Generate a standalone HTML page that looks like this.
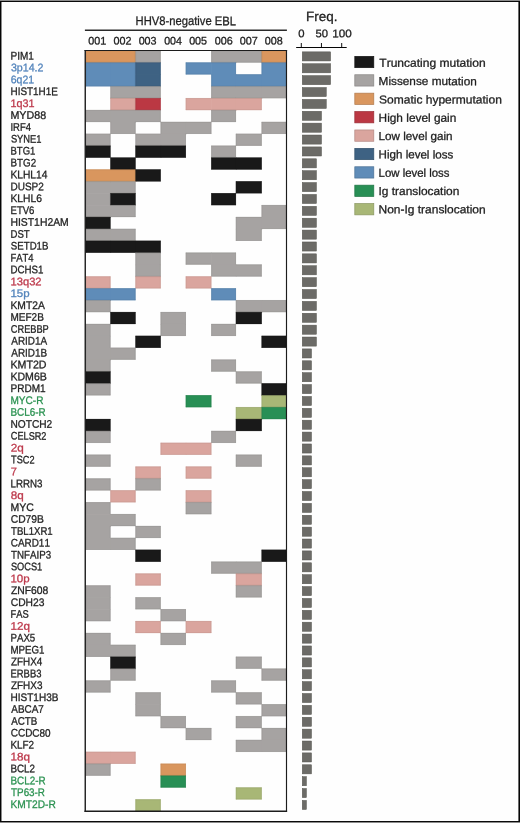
<!DOCTYPE html>
<html><head><meta charset="utf-8"><title>EBL mutation heatmap</title>
<style>html,body{margin:0;padding:0;background:#fff;}svg{display:block;will-change:transform;text-rendering:geometricPrecision;font-family:"Liberation Sans",sans-serif;}</style></head>
<body>
<svg width="520" height="823" viewBox="0 0 520 823">
<rect x="0" y="0" width="520" height="823" fill="#fefefe"/>
<rect x="85.70" y="50.62" width="25.35" height="12.48" fill="#d9965e"/>
<rect x="110.45" y="50.62" width="25.65" height="12.48" fill="#d9965e"/>
<rect x="135.50" y="50.62" width="25.15" height="12.48" fill="#a6a3a2"/>
<rect x="211.30" y="50.62" width="25.20" height="12.48" fill="#a6a3a2"/>
<rect x="235.90" y="50.62" width="26.35" height="11.88" fill="#a6a3a2"/>
<rect x="261.65" y="50.62" width="24.65" height="12.48" fill="#d9965e"/>
<rect x="85.70" y="62.50" width="25.35" height="12.48" fill="#5f8cb8"/>
<rect x="110.45" y="62.50" width="25.65" height="12.48" fill="#5f8cb8"/>
<rect x="135.50" y="62.50" width="25.15" height="12.48" fill="#3e6283"/>
<rect x="185.80" y="62.50" width="26.10" height="11.89" fill="#5f8cb8"/>
<rect x="211.30" y="62.50" width="24.60" height="12.48" fill="#5f8cb8"/>
<rect x="261.65" y="62.50" width="24.65" height="12.48" fill="#5f8cb8"/>
<rect x="85.70" y="74.39" width="25.35" height="11.89" fill="#5f8cb8"/>
<rect x="110.45" y="74.39" width="25.65" height="12.48" fill="#5f8cb8"/>
<rect x="135.50" y="74.39" width="25.15" height="12.48" fill="#3e6283"/>
<rect x="211.30" y="74.39" width="25.20" height="12.48" fill="#5f8cb8"/>
<rect x="235.90" y="74.39" width="26.35" height="12.48" fill="#5f8cb8"/>
<rect x="261.65" y="74.39" width="24.65" height="12.48" fill="#5f8cb8"/>
<rect x="110.45" y="86.28" width="25.65" height="12.48" fill="#a6a3a2"/>
<rect x="135.50" y="86.28" width="25.15" height="12.48" fill="#a6a3a2"/>
<rect x="211.30" y="86.28" width="25.20" height="12.48" fill="#a6a3a2"/>
<rect x="235.90" y="86.28" width="26.35" height="12.48" fill="#a6a3a2"/>
<rect x="261.65" y="86.28" width="24.65" height="11.88" fill="#a6a3a2"/>
<rect x="110.45" y="98.16" width="25.65" height="12.48" fill="#daa59e"/>
<rect x="135.50" y="98.16" width="25.15" height="12.48" fill="#bb3843"/>
<rect x="185.80" y="98.16" width="26.10" height="11.88" fill="#daa59e"/>
<rect x="211.30" y="98.16" width="25.20" height="12.48" fill="#daa59e"/>
<rect x="235.90" y="98.16" width="25.75" height="11.88" fill="#daa59e"/>
<rect x="85.70" y="110.04" width="25.35" height="11.89" fill="#a6a3a2"/>
<rect x="110.45" y="110.04" width="25.65" height="12.49" fill="#a6a3a2"/>
<rect x="135.50" y="110.04" width="25.15" height="11.89" fill="#a6a3a2"/>
<rect x="211.30" y="110.04" width="24.60" height="11.89" fill="#a6a3a2"/>
<rect x="110.45" y="121.93" width="25.05" height="11.88" fill="#a6a3a2"/>
<rect x="160.65" y="121.93" width="25.75" height="12.48" fill="#a6a3a2"/>
<rect x="185.80" y="121.93" width="25.50" height="11.88" fill="#a6a3a2"/>
<rect x="261.65" y="121.93" width="24.65" height="11.88" fill="#a6a3a2"/>
<rect x="85.70" y="133.81" width="24.75" height="12.48" fill="#a6a3a2"/>
<rect x="135.50" y="133.81" width="25.75" height="12.48" fill="#a6a3a2"/>
<rect x="160.65" y="133.81" width="25.15" height="12.48" fill="#a6a3a2"/>
<rect x="235.90" y="133.81" width="25.75" height="11.88" fill="#a6a3a2"/>
<rect x="85.70" y="145.70" width="24.75" height="11.89" fill="#191919"/>
<rect x="135.50" y="145.70" width="25.75" height="11.89" fill="#191919"/>
<rect x="160.65" y="145.70" width="25.15" height="11.89" fill="#191919"/>
<rect x="211.30" y="145.70" width="24.60" height="12.49" fill="#a6a3a2"/>
<rect x="110.45" y="157.59" width="25.05" height="12.48" fill="#191919"/>
<rect x="211.30" y="157.59" width="25.20" height="11.88" fill="#191919"/>
<rect x="235.90" y="157.59" width="25.75" height="11.88" fill="#191919"/>
<rect x="85.70" y="169.47" width="25.35" height="12.48" fill="#d9965e"/>
<rect x="110.45" y="169.47" width="25.65" height="12.48" fill="#d9965e"/>
<rect x="135.50" y="169.47" width="25.15" height="11.88" fill="#191919"/>
<rect x="85.70" y="181.35" width="25.35" height="12.49" fill="#a6a3a2"/>
<rect x="110.45" y="181.35" width="25.05" height="12.49" fill="#a6a3a2"/>
<rect x="235.90" y="181.35" width="25.75" height="11.89" fill="#191919"/>
<rect x="85.70" y="193.24" width="25.35" height="12.48" fill="#a6a3a2"/>
<rect x="110.45" y="193.24" width="25.05" height="12.48" fill="#191919"/>
<rect x="211.30" y="193.24" width="24.60" height="11.88" fill="#191919"/>
<rect x="85.70" y="205.12" width="25.35" height="12.48" fill="#a6a3a2"/>
<rect x="110.45" y="205.12" width="25.05" height="11.88" fill="#a6a3a2"/>
<rect x="261.65" y="205.12" width="24.65" height="12.48" fill="#a6a3a2"/>
<rect x="85.70" y="217.01" width="24.75" height="12.49" fill="#191919"/>
<rect x="235.90" y="217.01" width="26.35" height="12.49" fill="#a6a3a2"/>
<rect x="261.65" y="217.01" width="24.65" height="11.89" fill="#a6a3a2"/>
<rect x="85.70" y="228.90" width="25.35" height="12.48" fill="#a6a3a2"/>
<rect x="110.45" y="228.90" width="25.05" height="12.48" fill="#a6a3a2"/>
<rect x="235.90" y="228.90" width="25.75" height="11.88" fill="#a6a3a2"/>
<rect x="85.70" y="240.78" width="25.35" height="11.88" fill="#191919"/>
<rect x="110.45" y="240.78" width="25.65" height="11.88" fill="#191919"/>
<rect x="135.50" y="240.78" width="25.15" height="12.48" fill="#191919"/>
<rect x="135.50" y="252.66" width="25.15" height="12.49" fill="#a6a3a2"/>
<rect x="185.80" y="252.66" width="26.10" height="11.89" fill="#a6a3a2"/>
<rect x="211.30" y="252.66" width="24.60" height="12.49" fill="#a6a3a2"/>
<rect x="135.50" y="264.55" width="25.15" height="12.49" fill="#a6a3a2"/>
<rect x="211.30" y="264.55" width="25.20" height="11.88" fill="#a6a3a2"/>
<rect x="235.90" y="264.55" width="25.75" height="11.88" fill="#a6a3a2"/>
<rect x="85.70" y="276.44" width="24.75" height="12.49" fill="#daa59e"/>
<rect x="135.50" y="276.44" width="25.15" height="11.88" fill="#daa59e"/>
<rect x="185.80" y="276.44" width="25.50" height="11.88" fill="#daa59e"/>
<rect x="85.70" y="288.32" width="25.35" height="12.49" fill="#5f8cb8"/>
<rect x="110.45" y="288.32" width="25.05" height="11.88" fill="#5f8cb8"/>
<rect x="211.30" y="288.32" width="24.60" height="11.88" fill="#5f8cb8"/>
<rect x="85.70" y="300.20" width="24.75" height="11.88" fill="#a6a3a2"/>
<rect x="235.90" y="300.20" width="26.35" height="12.49" fill="#a6a3a2"/>
<rect x="261.65" y="300.20" width="24.65" height="11.88" fill="#a6a3a2"/>
<rect x="110.45" y="312.09" width="25.05" height="11.89" fill="#191919"/>
<rect x="160.65" y="312.09" width="25.15" height="12.49" fill="#a6a3a2"/>
<rect x="235.90" y="312.09" width="25.75" height="11.89" fill="#191919"/>
<rect x="85.70" y="323.98" width="24.75" height="12.49" fill="#a6a3a2"/>
<rect x="160.65" y="323.98" width="25.15" height="11.88" fill="#a6a3a2"/>
<rect x="211.30" y="323.98" width="24.60" height="11.88" fill="#a6a3a2"/>
<rect x="85.70" y="335.86" width="24.75" height="12.49" fill="#a6a3a2"/>
<rect x="135.50" y="335.86" width="25.15" height="11.88" fill="#191919"/>
<rect x="261.65" y="335.86" width="24.65" height="11.88" fill="#191919"/>
<rect x="85.70" y="347.75" width="25.35" height="12.49" fill="#a6a3a2"/>
<rect x="110.45" y="347.75" width="25.05" height="11.88" fill="#a6a3a2"/>
<rect x="85.70" y="359.63" width="24.75" height="12.49" fill="#a6a3a2"/>
<rect x="211.30" y="359.63" width="24.60" height="11.88" fill="#a6a3a2"/>
<rect x="85.70" y="371.51" width="24.75" height="12.49" fill="#191919"/>
<rect x="235.90" y="371.51" width="25.75" height="11.88" fill="#a6a3a2"/>
<rect x="85.70" y="383.40" width="24.75" height="11.89" fill="#a6a3a2"/>
<rect x="261.65" y="383.40" width="24.65" height="12.49" fill="#191919"/>
<rect x="185.80" y="395.29" width="25.50" height="11.88" fill="#288f55"/>
<rect x="261.65" y="395.29" width="24.65" height="12.49" fill="#a8b776"/>
<rect x="235.90" y="407.17" width="26.35" height="12.49" fill="#a8b776"/>
<rect x="261.65" y="407.17" width="24.65" height="11.88" fill="#288f55"/>
<rect x="85.70" y="419.06" width="24.75" height="12.49" fill="#191919"/>
<rect x="235.90" y="419.06" width="25.75" height="11.88" fill="#191919"/>
<rect x="85.70" y="430.94" width="24.75" height="11.88" fill="#a6a3a2"/>
<rect x="211.30" y="430.94" width="24.60" height="11.88" fill="#a6a3a2"/>
<rect x="160.65" y="442.82" width="25.75" height="11.88" fill="#daa59e"/>
<rect x="185.80" y="442.82" width="25.50" height="11.88" fill="#daa59e"/>
<rect x="85.70" y="454.71" width="24.75" height="11.88" fill="#a6a3a2"/>
<rect x="235.90" y="454.71" width="25.75" height="11.88" fill="#a6a3a2"/>
<rect x="135.50" y="466.59" width="25.15" height="12.49" fill="#daa59e"/>
<rect x="185.80" y="466.59" width="25.50" height="11.89" fill="#daa59e"/>
<rect x="85.70" y="478.48" width="24.75" height="11.88" fill="#a6a3a2"/>
<rect x="135.50" y="478.48" width="25.15" height="11.88" fill="#a6a3a2"/>
<rect x="110.45" y="490.37" width="25.05" height="11.88" fill="#daa59e"/>
<rect x="185.80" y="490.37" width="25.50" height="12.49" fill="#daa59e"/>
<rect x="85.70" y="502.25" width="24.75" height="12.49" fill="#a6a3a2"/>
<rect x="185.80" y="502.25" width="25.50" height="11.88" fill="#a6a3a2"/>
<rect x="85.70" y="514.13" width="25.35" height="12.49" fill="#a6a3a2"/>
<rect x="110.45" y="514.13" width="25.05" height="11.88" fill="#a6a3a2"/>
<rect x="85.70" y="526.02" width="24.75" height="12.49" fill="#a6a3a2"/>
<rect x="135.50" y="526.02" width="25.15" height="11.88" fill="#a6a3a2"/>
<rect x="85.70" y="537.90" width="25.35" height="11.88" fill="#a6a3a2"/>
<rect x="110.45" y="537.90" width="25.05" height="11.88" fill="#a6a3a2"/>
<rect x="135.50" y="549.79" width="25.15" height="11.88" fill="#191919"/>
<rect x="261.65" y="549.79" width="24.65" height="11.88" fill="#191919"/>
<rect x="211.30" y="561.67" width="25.20" height="11.88" fill="#a6a3a2"/>
<rect x="235.90" y="561.67" width="25.75" height="12.49" fill="#a6a3a2"/>
<rect x="135.50" y="573.56" width="25.15" height="11.89" fill="#daa59e"/>
<rect x="235.90" y="573.56" width="25.75" height="12.49" fill="#daa59e"/>
<rect x="85.70" y="585.45" width="24.75" height="12.49" fill="#a6a3a2"/>
<rect x="235.90" y="585.45" width="25.75" height="11.88" fill="#a6a3a2"/>
<rect x="85.70" y="597.33" width="24.75" height="12.49" fill="#a6a3a2"/>
<rect x="135.50" y="597.33" width="25.15" height="11.88" fill="#a6a3a2"/>
<rect x="85.70" y="609.22" width="24.75" height="11.88" fill="#a6a3a2"/>
<rect x="160.65" y="609.22" width="25.15" height="11.88" fill="#a6a3a2"/>
<rect x="135.50" y="621.10" width="25.15" height="11.88" fill="#daa59e"/>
<rect x="185.80" y="621.10" width="25.50" height="11.88" fill="#daa59e"/>
<rect x="85.70" y="632.99" width="24.75" height="12.49" fill="#a6a3a2"/>
<rect x="160.65" y="632.99" width="25.15" height="11.88" fill="#a6a3a2"/>
<rect x="85.70" y="644.87" width="25.35" height="11.88" fill="#a6a3a2"/>
<rect x="110.45" y="644.87" width="25.05" height="12.49" fill="#a6a3a2"/>
<rect x="110.45" y="656.75" width="25.05" height="12.49" fill="#191919"/>
<rect x="235.90" y="656.75" width="25.75" height="11.88" fill="#a6a3a2"/>
<rect x="110.45" y="668.64" width="25.05" height="11.88" fill="#a6a3a2"/>
<rect x="261.65" y="668.64" width="24.65" height="11.88" fill="#a6a3a2"/>
<rect x="85.70" y="680.52" width="24.75" height="11.88" fill="#a6a3a2"/>
<rect x="211.30" y="680.52" width="24.60" height="11.88" fill="#a6a3a2"/>
<rect x="135.50" y="692.41" width="25.15" height="12.49" fill="#a6a3a2"/>
<rect x="235.90" y="692.41" width="25.75" height="11.88" fill="#a6a3a2"/>
<rect x="135.50" y="704.29" width="25.15" height="11.88" fill="#a6a3a2"/>
<rect x="261.65" y="704.29" width="24.65" height="11.88" fill="#a6a3a2"/>
<rect x="160.65" y="716.18" width="25.15" height="11.88" fill="#a6a3a2"/>
<rect x="235.90" y="716.18" width="25.75" height="11.88" fill="#a6a3a2"/>
<rect x="185.80" y="728.06" width="25.50" height="11.89" fill="#a6a3a2"/>
<rect x="261.65" y="728.06" width="24.65" height="12.49" fill="#a6a3a2"/>
<rect x="235.90" y="739.95" width="26.35" height="11.88" fill="#a6a3a2"/>
<rect x="261.65" y="739.95" width="24.65" height="11.88" fill="#a6a3a2"/>
<rect x="85.70" y="751.84" width="25.35" height="12.49" fill="#daa59e"/>
<rect x="110.45" y="751.84" width="25.05" height="11.88" fill="#daa59e"/>
<rect x="85.70" y="763.72" width="24.75" height="11.88" fill="#a6a3a2"/>
<rect x="160.65" y="763.72" width="25.15" height="12.49" fill="#d9965e"/>
<rect x="160.65" y="775.61" width="25.15" height="11.88" fill="#288f55"/>
<rect x="235.90" y="787.49" width="25.75" height="11.88" fill="#a8b776"/>
<rect x="135.50" y="799.38" width="25.15" height="11.88" fill="#a8b776"/>
<line x1="85.70" y1="50.89" x2="110.45" y2="50.89" stroke="#c38754" stroke-width="0.55"/>
<line x1="85.70" y1="62.23" x2="110.45" y2="62.23" stroke="#c38754" stroke-width="0.55"/>
<line x1="85.98" y1="50.62" x2="85.98" y2="62.50" stroke="#c38754" stroke-width="0.55"/>
<line x1="110.45" y1="50.89" x2="135.50" y2="50.89" stroke="#c38754" stroke-width="0.55"/>
<line x1="110.45" y1="62.23" x2="135.50" y2="62.23" stroke="#c38754" stroke-width="0.55"/>
<line x1="135.22" y1="50.62" x2="135.22" y2="62.50" stroke="#c38754" stroke-width="0.55"/>
<line x1="135.50" y1="50.89" x2="160.65" y2="50.89" stroke="#959291" stroke-width="0.55"/>
<line x1="135.50" y1="62.23" x2="160.65" y2="62.23" stroke="#959291" stroke-width="0.55"/>
<line x1="135.78" y1="50.62" x2="135.78" y2="62.50" stroke="#959291" stroke-width="0.55"/>
<line x1="160.38" y1="50.62" x2="160.38" y2="62.50" stroke="#959291" stroke-width="0.55"/>
<line x1="211.30" y1="50.89" x2="235.90" y2="50.89" stroke="#959291" stroke-width="0.55"/>
<line x1="211.30" y1="62.23" x2="235.90" y2="62.23" stroke="#959291" stroke-width="0.55"/>
<line x1="211.58" y1="50.62" x2="211.58" y2="62.50" stroke="#959291" stroke-width="0.55"/>
<line x1="235.90" y1="50.89" x2="261.65" y2="50.89" stroke="#959291" stroke-width="0.55"/>
<line x1="235.90" y1="62.23" x2="261.65" y2="62.23" stroke="#959291" stroke-width="0.55"/>
<line x1="261.38" y1="50.62" x2="261.38" y2="62.50" stroke="#959291" stroke-width="0.55"/>
<line x1="261.65" y1="50.89" x2="286.30" y2="50.89" stroke="#c38754" stroke-width="0.55"/>
<line x1="261.65" y1="62.23" x2="286.30" y2="62.23" stroke="#c38754" stroke-width="0.55"/>
<line x1="261.92" y1="50.62" x2="261.92" y2="62.50" stroke="#c38754" stroke-width="0.55"/>
<line x1="286.03" y1="50.62" x2="286.03" y2="62.50" stroke="#c38754" stroke-width="0.55"/>
<line x1="85.70" y1="62.78" x2="110.45" y2="62.78" stroke="#557ea5" stroke-width="0.55"/>
<line x1="85.98" y1="62.50" x2="85.98" y2="74.39" stroke="#557ea5" stroke-width="0.55"/>
<line x1="110.45" y1="62.78" x2="135.50" y2="62.78" stroke="#557ea5" stroke-width="0.55"/>
<line x1="135.22" y1="62.50" x2="135.22" y2="74.39" stroke="#557ea5" stroke-width="0.55"/>
<line x1="135.50" y1="62.78" x2="160.65" y2="62.78" stroke="#375875" stroke-width="0.55"/>
<line x1="135.78" y1="62.50" x2="135.78" y2="74.39" stroke="#375875" stroke-width="0.55"/>
<line x1="160.38" y1="62.50" x2="160.38" y2="74.39" stroke="#375875" stroke-width="0.55"/>
<line x1="185.80" y1="62.78" x2="211.30" y2="62.78" stroke="#557ea5" stroke-width="0.55"/>
<line x1="185.80" y1="74.11" x2="211.30" y2="74.11" stroke="#557ea5" stroke-width="0.55"/>
<line x1="186.08" y1="62.50" x2="186.08" y2="74.39" stroke="#557ea5" stroke-width="0.55"/>
<line x1="211.30" y1="62.78" x2="235.90" y2="62.78" stroke="#557ea5" stroke-width="0.55"/>
<line x1="235.62" y1="62.50" x2="235.62" y2="74.39" stroke="#557ea5" stroke-width="0.55"/>
<line x1="261.65" y1="62.78" x2="286.30" y2="62.78" stroke="#557ea5" stroke-width="0.55"/>
<line x1="261.92" y1="62.50" x2="261.92" y2="74.39" stroke="#557ea5" stroke-width="0.55"/>
<line x1="286.03" y1="62.50" x2="286.03" y2="74.39" stroke="#557ea5" stroke-width="0.55"/>
<line x1="85.70" y1="86.00" x2="110.45" y2="86.00" stroke="#557ea5" stroke-width="0.55"/>
<line x1="85.98" y1="74.39" x2="85.98" y2="86.28" stroke="#557ea5" stroke-width="0.55"/>
<line x1="110.45" y1="86.00" x2="135.50" y2="86.00" stroke="#557ea5" stroke-width="0.55"/>
<line x1="135.22" y1="74.39" x2="135.22" y2="86.28" stroke="#557ea5" stroke-width="0.55"/>
<line x1="135.50" y1="86.00" x2="160.65" y2="86.00" stroke="#375875" stroke-width="0.55"/>
<line x1="135.78" y1="74.39" x2="135.78" y2="86.28" stroke="#375875" stroke-width="0.55"/>
<line x1="160.38" y1="74.39" x2="160.38" y2="86.28" stroke="#375875" stroke-width="0.55"/>
<line x1="211.30" y1="86.00" x2="235.90" y2="86.00" stroke="#557ea5" stroke-width="0.55"/>
<line x1="211.58" y1="74.39" x2="211.58" y2="86.28" stroke="#557ea5" stroke-width="0.55"/>
<line x1="235.90" y1="74.67" x2="261.65" y2="74.67" stroke="#557ea5" stroke-width="0.55"/>
<line x1="235.90" y1="86.00" x2="261.65" y2="86.00" stroke="#557ea5" stroke-width="0.55"/>
<line x1="261.65" y1="86.00" x2="286.30" y2="86.00" stroke="#557ea5" stroke-width="0.55"/>
<line x1="286.03" y1="74.39" x2="286.03" y2="86.28" stroke="#557ea5" stroke-width="0.55"/>
<line x1="110.45" y1="86.55" x2="135.50" y2="86.55" stroke="#959291" stroke-width="0.55"/>
<line x1="110.45" y1="97.88" x2="135.50" y2="97.88" stroke="#959291" stroke-width="0.55"/>
<line x1="110.73" y1="86.28" x2="110.73" y2="98.16" stroke="#959291" stroke-width="0.55"/>
<line x1="135.50" y1="86.55" x2="160.65" y2="86.55" stroke="#959291" stroke-width="0.55"/>
<line x1="135.50" y1="97.88" x2="160.65" y2="97.88" stroke="#959291" stroke-width="0.55"/>
<line x1="160.38" y1="86.28" x2="160.38" y2="98.16" stroke="#959291" stroke-width="0.55"/>
<line x1="211.30" y1="86.55" x2="235.90" y2="86.55" stroke="#959291" stroke-width="0.55"/>
<line x1="211.30" y1="97.88" x2="235.90" y2="97.88" stroke="#959291" stroke-width="0.55"/>
<line x1="211.58" y1="86.28" x2="211.58" y2="98.16" stroke="#959291" stroke-width="0.55"/>
<line x1="235.90" y1="86.55" x2="261.65" y2="86.55" stroke="#959291" stroke-width="0.55"/>
<line x1="235.90" y1="97.88" x2="261.65" y2="97.88" stroke="#959291" stroke-width="0.55"/>
<line x1="261.65" y1="86.55" x2="286.30" y2="86.55" stroke="#959291" stroke-width="0.55"/>
<line x1="261.65" y1="97.88" x2="286.30" y2="97.88" stroke="#959291" stroke-width="0.55"/>
<line x1="286.03" y1="86.28" x2="286.03" y2="98.16" stroke="#959291" stroke-width="0.55"/>
<line x1="110.45" y1="98.44" x2="135.50" y2="98.44" stroke="#c4948e" stroke-width="0.55"/>
<line x1="110.45" y1="109.77" x2="135.50" y2="109.77" stroke="#c4948e" stroke-width="0.55"/>
<line x1="110.73" y1="98.16" x2="110.73" y2="110.04" stroke="#c4948e" stroke-width="0.55"/>
<line x1="135.22" y1="98.16" x2="135.22" y2="110.04" stroke="#c4948e" stroke-width="0.55"/>
<line x1="135.50" y1="98.44" x2="160.65" y2="98.44" stroke="#a8323c" stroke-width="0.55"/>
<line x1="135.50" y1="109.77" x2="160.65" y2="109.77" stroke="#a8323c" stroke-width="0.55"/>
<line x1="135.78" y1="98.16" x2="135.78" y2="110.04" stroke="#a8323c" stroke-width="0.55"/>
<line x1="160.38" y1="98.16" x2="160.38" y2="110.04" stroke="#a8323c" stroke-width="0.55"/>
<line x1="185.80" y1="98.44" x2="211.30" y2="98.44" stroke="#c4948e" stroke-width="0.55"/>
<line x1="185.80" y1="109.77" x2="211.30" y2="109.77" stroke="#c4948e" stroke-width="0.55"/>
<line x1="186.08" y1="98.16" x2="186.08" y2="110.04" stroke="#c4948e" stroke-width="0.55"/>
<line x1="211.30" y1="98.44" x2="235.90" y2="98.44" stroke="#c4948e" stroke-width="0.55"/>
<line x1="211.30" y1="109.77" x2="235.90" y2="109.77" stroke="#c4948e" stroke-width="0.55"/>
<line x1="235.90" y1="98.44" x2="261.65" y2="98.44" stroke="#c4948e" stroke-width="0.55"/>
<line x1="235.90" y1="109.77" x2="261.65" y2="109.77" stroke="#c4948e" stroke-width="0.55"/>
<line x1="261.38" y1="98.16" x2="261.38" y2="110.04" stroke="#c4948e" stroke-width="0.55"/>
<line x1="85.70" y1="110.32" x2="110.45" y2="110.32" stroke="#959291" stroke-width="0.55"/>
<line x1="85.70" y1="121.66" x2="110.45" y2="121.66" stroke="#959291" stroke-width="0.55"/>
<line x1="85.98" y1="110.04" x2="85.98" y2="121.93" stroke="#959291" stroke-width="0.55"/>
<line x1="110.45" y1="110.32" x2="135.50" y2="110.32" stroke="#959291" stroke-width="0.55"/>
<line x1="135.50" y1="110.32" x2="160.65" y2="110.32" stroke="#959291" stroke-width="0.55"/>
<line x1="135.50" y1="121.66" x2="160.65" y2="121.66" stroke="#959291" stroke-width="0.55"/>
<line x1="160.38" y1="110.04" x2="160.38" y2="121.93" stroke="#959291" stroke-width="0.55"/>
<line x1="211.30" y1="110.32" x2="235.90" y2="110.32" stroke="#959291" stroke-width="0.55"/>
<line x1="211.30" y1="121.66" x2="235.90" y2="121.66" stroke="#959291" stroke-width="0.55"/>
<line x1="211.58" y1="110.04" x2="211.58" y2="121.93" stroke="#959291" stroke-width="0.55"/>
<line x1="235.62" y1="110.04" x2="235.62" y2="121.93" stroke="#959291" stroke-width="0.55"/>
<line x1="110.45" y1="133.54" x2="135.50" y2="133.54" stroke="#959291" stroke-width="0.55"/>
<line x1="110.73" y1="121.93" x2="110.73" y2="133.81" stroke="#959291" stroke-width="0.55"/>
<line x1="135.22" y1="121.93" x2="135.22" y2="133.81" stroke="#959291" stroke-width="0.55"/>
<line x1="160.65" y1="122.21" x2="185.80" y2="122.21" stroke="#959291" stroke-width="0.55"/>
<line x1="160.93" y1="121.93" x2="160.93" y2="133.81" stroke="#959291" stroke-width="0.55"/>
<line x1="185.80" y1="122.21" x2="211.30" y2="122.21" stroke="#959291" stroke-width="0.55"/>
<line x1="185.80" y1="133.54" x2="211.30" y2="133.54" stroke="#959291" stroke-width="0.55"/>
<line x1="211.03" y1="121.93" x2="211.03" y2="133.81" stroke="#959291" stroke-width="0.55"/>
<line x1="261.65" y1="122.21" x2="286.30" y2="122.21" stroke="#959291" stroke-width="0.55"/>
<line x1="261.65" y1="133.54" x2="286.30" y2="133.54" stroke="#959291" stroke-width="0.55"/>
<line x1="261.92" y1="121.93" x2="261.92" y2="133.81" stroke="#959291" stroke-width="0.55"/>
<line x1="286.03" y1="121.93" x2="286.03" y2="133.81" stroke="#959291" stroke-width="0.55"/>
<line x1="85.70" y1="134.09" x2="110.45" y2="134.09" stroke="#959291" stroke-width="0.55"/>
<line x1="85.70" y1="145.42" x2="110.45" y2="145.42" stroke="#959291" stroke-width="0.55"/>
<line x1="85.98" y1="133.81" x2="85.98" y2="145.70" stroke="#959291" stroke-width="0.55"/>
<line x1="110.17" y1="133.81" x2="110.17" y2="145.70" stroke="#959291" stroke-width="0.55"/>
<line x1="135.50" y1="134.09" x2="160.65" y2="134.09" stroke="#959291" stroke-width="0.55"/>
<line x1="135.50" y1="145.42" x2="160.65" y2="145.42" stroke="#959291" stroke-width="0.55"/>
<line x1="135.78" y1="133.81" x2="135.78" y2="145.70" stroke="#959291" stroke-width="0.55"/>
<line x1="160.65" y1="145.42" x2="185.80" y2="145.42" stroke="#959291" stroke-width="0.55"/>
<line x1="185.53" y1="133.81" x2="185.53" y2="145.70" stroke="#959291" stroke-width="0.55"/>
<line x1="235.90" y1="134.09" x2="261.65" y2="134.09" stroke="#959291" stroke-width="0.55"/>
<line x1="235.90" y1="145.42" x2="261.65" y2="145.42" stroke="#959291" stroke-width="0.55"/>
<line x1="236.18" y1="133.81" x2="236.18" y2="145.70" stroke="#959291" stroke-width="0.55"/>
<line x1="261.38" y1="133.81" x2="261.38" y2="145.70" stroke="#959291" stroke-width="0.55"/>
<line x1="85.70" y1="145.97" x2="110.45" y2="145.97" stroke="#161616" stroke-width="0.55"/>
<line x1="85.70" y1="157.31" x2="110.45" y2="157.31" stroke="#161616" stroke-width="0.55"/>
<line x1="85.98" y1="145.70" x2="85.98" y2="157.59" stroke="#161616" stroke-width="0.55"/>
<line x1="110.17" y1="145.70" x2="110.17" y2="157.59" stroke="#161616" stroke-width="0.55"/>
<line x1="135.50" y1="145.97" x2="160.65" y2="145.97" stroke="#161616" stroke-width="0.55"/>
<line x1="135.50" y1="157.31" x2="160.65" y2="157.31" stroke="#161616" stroke-width="0.55"/>
<line x1="135.78" y1="145.70" x2="135.78" y2="157.59" stroke="#161616" stroke-width="0.55"/>
<line x1="160.65" y1="145.97" x2="185.80" y2="145.97" stroke="#161616" stroke-width="0.55"/>
<line x1="160.65" y1="157.31" x2="185.80" y2="157.31" stroke="#161616" stroke-width="0.55"/>
<line x1="185.53" y1="145.70" x2="185.53" y2="157.59" stroke="#161616" stroke-width="0.55"/>
<line x1="211.30" y1="145.97" x2="235.90" y2="145.97" stroke="#959291" stroke-width="0.55"/>
<line x1="211.30" y1="157.31" x2="235.90" y2="157.31" stroke="#959291" stroke-width="0.55"/>
<line x1="211.58" y1="145.70" x2="211.58" y2="157.59" stroke="#959291" stroke-width="0.55"/>
<line x1="235.62" y1="145.70" x2="235.62" y2="157.59" stroke="#959291" stroke-width="0.55"/>
<line x1="110.45" y1="157.86" x2="135.50" y2="157.86" stroke="#161616" stroke-width="0.55"/>
<line x1="110.45" y1="169.19" x2="135.50" y2="169.19" stroke="#161616" stroke-width="0.55"/>
<line x1="110.73" y1="157.59" x2="110.73" y2="169.47" stroke="#161616" stroke-width="0.55"/>
<line x1="135.22" y1="157.59" x2="135.22" y2="169.47" stroke="#161616" stroke-width="0.55"/>
<line x1="211.30" y1="157.86" x2="235.90" y2="157.86" stroke="#161616" stroke-width="0.55"/>
<line x1="211.30" y1="169.19" x2="235.90" y2="169.19" stroke="#161616" stroke-width="0.55"/>
<line x1="211.58" y1="157.59" x2="211.58" y2="169.47" stroke="#161616" stroke-width="0.55"/>
<line x1="235.90" y1="157.86" x2="261.65" y2="157.86" stroke="#161616" stroke-width="0.55"/>
<line x1="235.90" y1="169.19" x2="261.65" y2="169.19" stroke="#161616" stroke-width="0.55"/>
<line x1="261.38" y1="157.59" x2="261.38" y2="169.47" stroke="#161616" stroke-width="0.55"/>
<line x1="85.70" y1="169.75" x2="110.45" y2="169.75" stroke="#c38754" stroke-width="0.55"/>
<line x1="85.70" y1="181.08" x2="110.45" y2="181.08" stroke="#c38754" stroke-width="0.55"/>
<line x1="85.98" y1="169.47" x2="85.98" y2="181.35" stroke="#c38754" stroke-width="0.55"/>
<line x1="110.45" y1="169.75" x2="135.50" y2="169.75" stroke="#c38754" stroke-width="0.55"/>
<line x1="110.45" y1="181.08" x2="135.50" y2="181.08" stroke="#c38754" stroke-width="0.55"/>
<line x1="135.22" y1="169.47" x2="135.22" y2="181.35" stroke="#c38754" stroke-width="0.55"/>
<line x1="135.50" y1="169.75" x2="160.65" y2="169.75" stroke="#161616" stroke-width="0.55"/>
<line x1="135.50" y1="181.08" x2="160.65" y2="181.08" stroke="#161616" stroke-width="0.55"/>
<line x1="135.78" y1="169.47" x2="135.78" y2="181.35" stroke="#161616" stroke-width="0.55"/>
<line x1="160.38" y1="169.47" x2="160.38" y2="181.35" stroke="#161616" stroke-width="0.55"/>
<line x1="85.70" y1="181.63" x2="110.45" y2="181.63" stroke="#959291" stroke-width="0.55"/>
<line x1="85.98" y1="181.35" x2="85.98" y2="193.24" stroke="#959291" stroke-width="0.55"/>
<line x1="110.45" y1="181.63" x2="135.50" y2="181.63" stroke="#959291" stroke-width="0.55"/>
<line x1="110.45" y1="192.97" x2="135.50" y2="192.97" stroke="#959291" stroke-width="0.55"/>
<line x1="135.22" y1="181.35" x2="135.22" y2="193.24" stroke="#959291" stroke-width="0.55"/>
<line x1="235.90" y1="181.63" x2="261.65" y2="181.63" stroke="#161616" stroke-width="0.55"/>
<line x1="235.90" y1="192.97" x2="261.65" y2="192.97" stroke="#161616" stroke-width="0.55"/>
<line x1="236.18" y1="181.35" x2="236.18" y2="193.24" stroke="#161616" stroke-width="0.55"/>
<line x1="261.38" y1="181.35" x2="261.38" y2="193.24" stroke="#161616" stroke-width="0.55"/>
<line x1="85.98" y1="193.24" x2="85.98" y2="205.12" stroke="#959291" stroke-width="0.55"/>
<line x1="110.17" y1="193.24" x2="110.17" y2="205.12" stroke="#959291" stroke-width="0.55"/>
<line x1="110.45" y1="193.52" x2="135.50" y2="193.52" stroke="#161616" stroke-width="0.55"/>
<line x1="110.45" y1="204.85" x2="135.50" y2="204.85" stroke="#161616" stroke-width="0.55"/>
<line x1="110.73" y1="193.24" x2="110.73" y2="205.12" stroke="#161616" stroke-width="0.55"/>
<line x1="135.22" y1="193.24" x2="135.22" y2="205.12" stroke="#161616" stroke-width="0.55"/>
<line x1="211.30" y1="193.52" x2="235.90" y2="193.52" stroke="#161616" stroke-width="0.55"/>
<line x1="211.30" y1="204.85" x2="235.90" y2="204.85" stroke="#161616" stroke-width="0.55"/>
<line x1="211.58" y1="193.24" x2="211.58" y2="205.12" stroke="#161616" stroke-width="0.55"/>
<line x1="235.62" y1="193.24" x2="235.62" y2="205.12" stroke="#161616" stroke-width="0.55"/>
<line x1="85.70" y1="216.73" x2="110.45" y2="216.73" stroke="#959291" stroke-width="0.55"/>
<line x1="85.98" y1="205.12" x2="85.98" y2="217.01" stroke="#959291" stroke-width="0.55"/>
<line x1="110.45" y1="205.40" x2="135.50" y2="205.40" stroke="#959291" stroke-width="0.55"/>
<line x1="110.45" y1="216.73" x2="135.50" y2="216.73" stroke="#959291" stroke-width="0.55"/>
<line x1="135.22" y1="205.12" x2="135.22" y2="217.01" stroke="#959291" stroke-width="0.55"/>
<line x1="261.65" y1="205.40" x2="286.30" y2="205.40" stroke="#959291" stroke-width="0.55"/>
<line x1="261.92" y1="205.12" x2="261.92" y2="217.01" stroke="#959291" stroke-width="0.55"/>
<line x1="286.03" y1="205.12" x2="286.03" y2="217.01" stroke="#959291" stroke-width="0.55"/>
<line x1="85.70" y1="217.28" x2="110.45" y2="217.28" stroke="#161616" stroke-width="0.55"/>
<line x1="85.70" y1="228.62" x2="110.45" y2="228.62" stroke="#161616" stroke-width="0.55"/>
<line x1="85.98" y1="217.01" x2="85.98" y2="228.90" stroke="#161616" stroke-width="0.55"/>
<line x1="110.17" y1="217.01" x2="110.17" y2="228.90" stroke="#161616" stroke-width="0.55"/>
<line x1="235.90" y1="217.28" x2="261.65" y2="217.28" stroke="#959291" stroke-width="0.55"/>
<line x1="236.18" y1="217.01" x2="236.18" y2="228.90" stroke="#959291" stroke-width="0.55"/>
<line x1="261.65" y1="228.62" x2="286.30" y2="228.62" stroke="#959291" stroke-width="0.55"/>
<line x1="286.03" y1="217.01" x2="286.03" y2="228.90" stroke="#959291" stroke-width="0.55"/>
<line x1="85.70" y1="229.17" x2="110.45" y2="229.17" stroke="#959291" stroke-width="0.55"/>
<line x1="85.70" y1="240.50" x2="110.45" y2="240.50" stroke="#959291" stroke-width="0.55"/>
<line x1="85.98" y1="228.90" x2="85.98" y2="240.78" stroke="#959291" stroke-width="0.55"/>
<line x1="110.45" y1="229.17" x2="135.50" y2="229.17" stroke="#959291" stroke-width="0.55"/>
<line x1="110.45" y1="240.50" x2="135.50" y2="240.50" stroke="#959291" stroke-width="0.55"/>
<line x1="135.22" y1="228.90" x2="135.22" y2="240.78" stroke="#959291" stroke-width="0.55"/>
<line x1="235.90" y1="240.50" x2="261.65" y2="240.50" stroke="#959291" stroke-width="0.55"/>
<line x1="236.18" y1="228.90" x2="236.18" y2="240.78" stroke="#959291" stroke-width="0.55"/>
<line x1="261.38" y1="228.90" x2="261.38" y2="240.78" stroke="#959291" stroke-width="0.55"/>
<line x1="85.70" y1="241.06" x2="110.45" y2="241.06" stroke="#161616" stroke-width="0.55"/>
<line x1="85.70" y1="252.39" x2="110.45" y2="252.39" stroke="#161616" stroke-width="0.55"/>
<line x1="85.98" y1="240.78" x2="85.98" y2="252.66" stroke="#161616" stroke-width="0.55"/>
<line x1="110.45" y1="241.06" x2="135.50" y2="241.06" stroke="#161616" stroke-width="0.55"/>
<line x1="110.45" y1="252.39" x2="135.50" y2="252.39" stroke="#161616" stroke-width="0.55"/>
<line x1="135.50" y1="241.06" x2="160.65" y2="241.06" stroke="#161616" stroke-width="0.55"/>
<line x1="135.50" y1="252.39" x2="160.65" y2="252.39" stroke="#161616" stroke-width="0.55"/>
<line x1="160.38" y1="240.78" x2="160.38" y2="252.66" stroke="#161616" stroke-width="0.55"/>
<line x1="135.50" y1="252.94" x2="160.65" y2="252.94" stroke="#959291" stroke-width="0.55"/>
<line x1="135.78" y1="252.66" x2="135.78" y2="264.55" stroke="#959291" stroke-width="0.55"/>
<line x1="160.38" y1="252.66" x2="160.38" y2="264.55" stroke="#959291" stroke-width="0.55"/>
<line x1="185.80" y1="252.94" x2="211.30" y2="252.94" stroke="#959291" stroke-width="0.55"/>
<line x1="185.80" y1="264.28" x2="211.30" y2="264.28" stroke="#959291" stroke-width="0.55"/>
<line x1="186.08" y1="252.66" x2="186.08" y2="264.55" stroke="#959291" stroke-width="0.55"/>
<line x1="211.30" y1="252.94" x2="235.90" y2="252.94" stroke="#959291" stroke-width="0.55"/>
<line x1="235.62" y1="252.66" x2="235.62" y2="264.55" stroke="#959291" stroke-width="0.55"/>
<line x1="135.50" y1="276.16" x2="160.65" y2="276.16" stroke="#959291" stroke-width="0.55"/>
<line x1="135.78" y1="264.55" x2="135.78" y2="276.44" stroke="#959291" stroke-width="0.55"/>
<line x1="160.38" y1="264.55" x2="160.38" y2="276.44" stroke="#959291" stroke-width="0.55"/>
<line x1="211.30" y1="276.16" x2="235.90" y2="276.16" stroke="#959291" stroke-width="0.55"/>
<line x1="211.58" y1="264.55" x2="211.58" y2="276.44" stroke="#959291" stroke-width="0.55"/>
<line x1="235.90" y1="264.82" x2="261.65" y2="264.82" stroke="#959291" stroke-width="0.55"/>
<line x1="235.90" y1="276.16" x2="261.65" y2="276.16" stroke="#959291" stroke-width="0.55"/>
<line x1="261.38" y1="264.55" x2="261.38" y2="276.44" stroke="#959291" stroke-width="0.55"/>
<line x1="85.70" y1="276.71" x2="110.45" y2="276.71" stroke="#c4948e" stroke-width="0.55"/>
<line x1="85.70" y1="288.05" x2="110.45" y2="288.05" stroke="#c4948e" stroke-width="0.55"/>
<line x1="85.98" y1="276.44" x2="85.98" y2="288.32" stroke="#c4948e" stroke-width="0.55"/>
<line x1="110.17" y1="276.44" x2="110.17" y2="288.32" stroke="#c4948e" stroke-width="0.55"/>
<line x1="135.50" y1="276.71" x2="160.65" y2="276.71" stroke="#c4948e" stroke-width="0.55"/>
<line x1="135.50" y1="288.05" x2="160.65" y2="288.05" stroke="#c4948e" stroke-width="0.55"/>
<line x1="135.78" y1="276.44" x2="135.78" y2="288.32" stroke="#c4948e" stroke-width="0.55"/>
<line x1="160.38" y1="276.44" x2="160.38" y2="288.32" stroke="#c4948e" stroke-width="0.55"/>
<line x1="185.80" y1="276.71" x2="211.30" y2="276.71" stroke="#c4948e" stroke-width="0.55"/>
<line x1="185.80" y1="288.05" x2="211.30" y2="288.05" stroke="#c4948e" stroke-width="0.55"/>
<line x1="186.08" y1="276.44" x2="186.08" y2="288.32" stroke="#c4948e" stroke-width="0.55"/>
<line x1="211.03" y1="276.44" x2="211.03" y2="288.32" stroke="#c4948e" stroke-width="0.55"/>
<line x1="85.70" y1="288.59" x2="110.45" y2="288.59" stroke="#557ea5" stroke-width="0.55"/>
<line x1="85.70" y1="299.93" x2="110.45" y2="299.93" stroke="#557ea5" stroke-width="0.55"/>
<line x1="85.98" y1="288.32" x2="85.98" y2="300.20" stroke="#557ea5" stroke-width="0.55"/>
<line x1="110.45" y1="288.59" x2="135.50" y2="288.59" stroke="#557ea5" stroke-width="0.55"/>
<line x1="110.45" y1="299.93" x2="135.50" y2="299.93" stroke="#557ea5" stroke-width="0.55"/>
<line x1="135.22" y1="288.32" x2="135.22" y2="300.20" stroke="#557ea5" stroke-width="0.55"/>
<line x1="211.30" y1="288.59" x2="235.90" y2="288.59" stroke="#557ea5" stroke-width="0.55"/>
<line x1="211.30" y1="299.93" x2="235.90" y2="299.93" stroke="#557ea5" stroke-width="0.55"/>
<line x1="211.58" y1="288.32" x2="211.58" y2="300.20" stroke="#557ea5" stroke-width="0.55"/>
<line x1="235.62" y1="288.32" x2="235.62" y2="300.20" stroke="#557ea5" stroke-width="0.55"/>
<line x1="85.70" y1="300.48" x2="110.45" y2="300.48" stroke="#959291" stroke-width="0.55"/>
<line x1="85.70" y1="311.81" x2="110.45" y2="311.81" stroke="#959291" stroke-width="0.55"/>
<line x1="85.98" y1="300.20" x2="85.98" y2="312.09" stroke="#959291" stroke-width="0.55"/>
<line x1="110.17" y1="300.20" x2="110.17" y2="312.09" stroke="#959291" stroke-width="0.55"/>
<line x1="235.90" y1="300.48" x2="261.65" y2="300.48" stroke="#959291" stroke-width="0.55"/>
<line x1="235.90" y1="311.81" x2="261.65" y2="311.81" stroke="#959291" stroke-width="0.55"/>
<line x1="236.18" y1="300.20" x2="236.18" y2="312.09" stroke="#959291" stroke-width="0.55"/>
<line x1="261.65" y1="300.48" x2="286.30" y2="300.48" stroke="#959291" stroke-width="0.55"/>
<line x1="261.65" y1="311.81" x2="286.30" y2="311.81" stroke="#959291" stroke-width="0.55"/>
<line x1="286.03" y1="300.20" x2="286.03" y2="312.09" stroke="#959291" stroke-width="0.55"/>
<line x1="110.45" y1="312.36" x2="135.50" y2="312.36" stroke="#161616" stroke-width="0.55"/>
<line x1="110.45" y1="323.70" x2="135.50" y2="323.70" stroke="#161616" stroke-width="0.55"/>
<line x1="110.73" y1="312.09" x2="110.73" y2="323.98" stroke="#161616" stroke-width="0.55"/>
<line x1="135.22" y1="312.09" x2="135.22" y2="323.98" stroke="#161616" stroke-width="0.55"/>
<line x1="160.65" y1="312.36" x2="185.80" y2="312.36" stroke="#959291" stroke-width="0.55"/>
<line x1="160.93" y1="312.09" x2="160.93" y2="323.98" stroke="#959291" stroke-width="0.55"/>
<line x1="185.53" y1="312.09" x2="185.53" y2="323.98" stroke="#959291" stroke-width="0.55"/>
<line x1="235.90" y1="312.36" x2="261.65" y2="312.36" stroke="#161616" stroke-width="0.55"/>
<line x1="235.90" y1="323.70" x2="261.65" y2="323.70" stroke="#161616" stroke-width="0.55"/>
<line x1="236.18" y1="312.09" x2="236.18" y2="323.98" stroke="#161616" stroke-width="0.55"/>
<line x1="261.38" y1="312.09" x2="261.38" y2="323.98" stroke="#161616" stroke-width="0.55"/>
<line x1="85.70" y1="324.25" x2="110.45" y2="324.25" stroke="#959291" stroke-width="0.55"/>
<line x1="85.98" y1="323.98" x2="85.98" y2="335.86" stroke="#959291" stroke-width="0.55"/>
<line x1="110.17" y1="323.98" x2="110.17" y2="335.86" stroke="#959291" stroke-width="0.55"/>
<line x1="160.65" y1="335.59" x2="185.80" y2="335.59" stroke="#959291" stroke-width="0.55"/>
<line x1="160.93" y1="323.98" x2="160.93" y2="335.86" stroke="#959291" stroke-width="0.55"/>
<line x1="185.53" y1="323.98" x2="185.53" y2="335.86" stroke="#959291" stroke-width="0.55"/>
<line x1="211.30" y1="324.25" x2="235.90" y2="324.25" stroke="#959291" stroke-width="0.55"/>
<line x1="211.30" y1="335.59" x2="235.90" y2="335.59" stroke="#959291" stroke-width="0.55"/>
<line x1="211.58" y1="323.98" x2="211.58" y2="335.86" stroke="#959291" stroke-width="0.55"/>
<line x1="235.62" y1="323.98" x2="235.62" y2="335.86" stroke="#959291" stroke-width="0.55"/>
<line x1="85.98" y1="335.86" x2="85.98" y2="347.75" stroke="#959291" stroke-width="0.55"/>
<line x1="110.17" y1="335.86" x2="110.17" y2="347.75" stroke="#959291" stroke-width="0.55"/>
<line x1="135.50" y1="336.13" x2="160.65" y2="336.13" stroke="#161616" stroke-width="0.55"/>
<line x1="135.50" y1="347.47" x2="160.65" y2="347.47" stroke="#161616" stroke-width="0.55"/>
<line x1="135.78" y1="335.86" x2="135.78" y2="347.75" stroke="#161616" stroke-width="0.55"/>
<line x1="160.38" y1="335.86" x2="160.38" y2="347.75" stroke="#161616" stroke-width="0.55"/>
<line x1="261.65" y1="336.13" x2="286.30" y2="336.13" stroke="#161616" stroke-width="0.55"/>
<line x1="261.65" y1="347.47" x2="286.30" y2="347.47" stroke="#161616" stroke-width="0.55"/>
<line x1="261.92" y1="335.86" x2="261.92" y2="347.75" stroke="#161616" stroke-width="0.55"/>
<line x1="286.03" y1="335.86" x2="286.03" y2="347.75" stroke="#161616" stroke-width="0.55"/>
<line x1="85.98" y1="347.75" x2="85.98" y2="359.63" stroke="#959291" stroke-width="0.55"/>
<line x1="110.45" y1="348.02" x2="135.50" y2="348.02" stroke="#959291" stroke-width="0.55"/>
<line x1="110.45" y1="359.36" x2="135.50" y2="359.36" stroke="#959291" stroke-width="0.55"/>
<line x1="135.22" y1="347.75" x2="135.22" y2="359.63" stroke="#959291" stroke-width="0.55"/>
<line x1="85.70" y1="371.24" x2="110.45" y2="371.24" stroke="#959291" stroke-width="0.55"/>
<line x1="85.98" y1="359.63" x2="85.98" y2="371.51" stroke="#959291" stroke-width="0.55"/>
<line x1="110.17" y1="359.63" x2="110.17" y2="371.51" stroke="#959291" stroke-width="0.55"/>
<line x1="211.30" y1="359.90" x2="235.90" y2="359.90" stroke="#959291" stroke-width="0.55"/>
<line x1="211.30" y1="371.24" x2="235.90" y2="371.24" stroke="#959291" stroke-width="0.55"/>
<line x1="211.58" y1="359.63" x2="211.58" y2="371.51" stroke="#959291" stroke-width="0.55"/>
<line x1="235.62" y1="359.63" x2="235.62" y2="371.51" stroke="#959291" stroke-width="0.55"/>
<line x1="85.70" y1="371.79" x2="110.45" y2="371.79" stroke="#161616" stroke-width="0.55"/>
<line x1="85.70" y1="383.12" x2="110.45" y2="383.12" stroke="#161616" stroke-width="0.55"/>
<line x1="85.98" y1="371.51" x2="85.98" y2="383.40" stroke="#161616" stroke-width="0.55"/>
<line x1="110.17" y1="371.51" x2="110.17" y2="383.40" stroke="#161616" stroke-width="0.55"/>
<line x1="235.90" y1="371.79" x2="261.65" y2="371.79" stroke="#959291" stroke-width="0.55"/>
<line x1="235.90" y1="383.12" x2="261.65" y2="383.12" stroke="#959291" stroke-width="0.55"/>
<line x1="236.18" y1="371.51" x2="236.18" y2="383.40" stroke="#959291" stroke-width="0.55"/>
<line x1="261.38" y1="371.51" x2="261.38" y2="383.40" stroke="#959291" stroke-width="0.55"/>
<line x1="85.70" y1="383.67" x2="110.45" y2="383.67" stroke="#959291" stroke-width="0.55"/>
<line x1="85.70" y1="395.01" x2="110.45" y2="395.01" stroke="#959291" stroke-width="0.55"/>
<line x1="85.98" y1="383.40" x2="85.98" y2="395.29" stroke="#959291" stroke-width="0.55"/>
<line x1="110.17" y1="383.40" x2="110.17" y2="395.29" stroke="#959291" stroke-width="0.55"/>
<line x1="261.65" y1="383.67" x2="286.30" y2="383.67" stroke="#161616" stroke-width="0.55"/>
<line x1="261.65" y1="395.01" x2="286.30" y2="395.01" stroke="#161616" stroke-width="0.55"/>
<line x1="261.92" y1="383.40" x2="261.92" y2="395.29" stroke="#161616" stroke-width="0.55"/>
<line x1="286.03" y1="383.40" x2="286.03" y2="395.29" stroke="#161616" stroke-width="0.55"/>
<line x1="185.80" y1="395.56" x2="211.30" y2="395.56" stroke="#24804c" stroke-width="0.55"/>
<line x1="185.80" y1="406.90" x2="211.30" y2="406.90" stroke="#24804c" stroke-width="0.55"/>
<line x1="186.08" y1="395.29" x2="186.08" y2="407.17" stroke="#24804c" stroke-width="0.55"/>
<line x1="211.03" y1="395.29" x2="211.03" y2="407.17" stroke="#24804c" stroke-width="0.55"/>
<line x1="261.65" y1="395.56" x2="286.30" y2="395.56" stroke="#97a46a" stroke-width="0.55"/>
<line x1="261.65" y1="406.90" x2="286.30" y2="406.90" stroke="#97a46a" stroke-width="0.55"/>
<line x1="261.92" y1="395.29" x2="261.92" y2="407.17" stroke="#97a46a" stroke-width="0.55"/>
<line x1="286.03" y1="395.29" x2="286.03" y2="407.17" stroke="#97a46a" stroke-width="0.55"/>
<line x1="235.90" y1="407.44" x2="261.65" y2="407.44" stroke="#97a46a" stroke-width="0.55"/>
<line x1="235.90" y1="418.78" x2="261.65" y2="418.78" stroke="#97a46a" stroke-width="0.55"/>
<line x1="236.18" y1="407.17" x2="236.18" y2="419.06" stroke="#97a46a" stroke-width="0.55"/>
<line x1="261.38" y1="407.17" x2="261.38" y2="419.06" stroke="#97a46a" stroke-width="0.55"/>
<line x1="261.65" y1="407.44" x2="286.30" y2="407.44" stroke="#24804c" stroke-width="0.55"/>
<line x1="261.65" y1="418.78" x2="286.30" y2="418.78" stroke="#24804c" stroke-width="0.55"/>
<line x1="261.92" y1="407.17" x2="261.92" y2="419.06" stroke="#24804c" stroke-width="0.55"/>
<line x1="286.03" y1="407.17" x2="286.03" y2="419.06" stroke="#24804c" stroke-width="0.55"/>
<line x1="85.70" y1="419.33" x2="110.45" y2="419.33" stroke="#161616" stroke-width="0.55"/>
<line x1="85.70" y1="430.67" x2="110.45" y2="430.67" stroke="#161616" stroke-width="0.55"/>
<line x1="85.98" y1="419.06" x2="85.98" y2="430.94" stroke="#161616" stroke-width="0.55"/>
<line x1="110.17" y1="419.06" x2="110.17" y2="430.94" stroke="#161616" stroke-width="0.55"/>
<line x1="235.90" y1="419.33" x2="261.65" y2="419.33" stroke="#161616" stroke-width="0.55"/>
<line x1="235.90" y1="430.67" x2="261.65" y2="430.67" stroke="#161616" stroke-width="0.55"/>
<line x1="236.18" y1="419.06" x2="236.18" y2="430.94" stroke="#161616" stroke-width="0.55"/>
<line x1="261.38" y1="419.06" x2="261.38" y2="430.94" stroke="#161616" stroke-width="0.55"/>
<line x1="85.70" y1="431.21" x2="110.45" y2="431.21" stroke="#959291" stroke-width="0.55"/>
<line x1="85.70" y1="442.55" x2="110.45" y2="442.55" stroke="#959291" stroke-width="0.55"/>
<line x1="85.98" y1="430.94" x2="85.98" y2="442.82" stroke="#959291" stroke-width="0.55"/>
<line x1="110.17" y1="430.94" x2="110.17" y2="442.82" stroke="#959291" stroke-width="0.55"/>
<line x1="211.30" y1="431.21" x2="235.90" y2="431.21" stroke="#959291" stroke-width="0.55"/>
<line x1="211.30" y1="442.55" x2="235.90" y2="442.55" stroke="#959291" stroke-width="0.55"/>
<line x1="211.58" y1="430.94" x2="211.58" y2="442.82" stroke="#959291" stroke-width="0.55"/>
<line x1="235.62" y1="430.94" x2="235.62" y2="442.82" stroke="#959291" stroke-width="0.55"/>
<line x1="160.65" y1="443.10" x2="185.80" y2="443.10" stroke="#c4948e" stroke-width="0.55"/>
<line x1="160.65" y1="454.44" x2="185.80" y2="454.44" stroke="#c4948e" stroke-width="0.55"/>
<line x1="160.93" y1="442.82" x2="160.93" y2="454.71" stroke="#c4948e" stroke-width="0.55"/>
<line x1="185.80" y1="443.10" x2="211.30" y2="443.10" stroke="#c4948e" stroke-width="0.55"/>
<line x1="185.80" y1="454.44" x2="211.30" y2="454.44" stroke="#c4948e" stroke-width="0.55"/>
<line x1="211.03" y1="442.82" x2="211.03" y2="454.71" stroke="#c4948e" stroke-width="0.55"/>
<line x1="85.70" y1="454.98" x2="110.45" y2="454.98" stroke="#959291" stroke-width="0.55"/>
<line x1="85.70" y1="466.32" x2="110.45" y2="466.32" stroke="#959291" stroke-width="0.55"/>
<line x1="85.98" y1="454.71" x2="85.98" y2="466.59" stroke="#959291" stroke-width="0.55"/>
<line x1="110.17" y1="454.71" x2="110.17" y2="466.59" stroke="#959291" stroke-width="0.55"/>
<line x1="235.90" y1="454.98" x2="261.65" y2="454.98" stroke="#959291" stroke-width="0.55"/>
<line x1="235.90" y1="466.32" x2="261.65" y2="466.32" stroke="#959291" stroke-width="0.55"/>
<line x1="236.18" y1="454.71" x2="236.18" y2="466.59" stroke="#959291" stroke-width="0.55"/>
<line x1="261.38" y1="454.71" x2="261.38" y2="466.59" stroke="#959291" stroke-width="0.55"/>
<line x1="135.50" y1="466.87" x2="160.65" y2="466.87" stroke="#c4948e" stroke-width="0.55"/>
<line x1="135.50" y1="478.21" x2="160.65" y2="478.21" stroke="#c4948e" stroke-width="0.55"/>
<line x1="135.78" y1="466.59" x2="135.78" y2="478.48" stroke="#c4948e" stroke-width="0.55"/>
<line x1="160.38" y1="466.59" x2="160.38" y2="478.48" stroke="#c4948e" stroke-width="0.55"/>
<line x1="185.80" y1="466.87" x2="211.30" y2="466.87" stroke="#c4948e" stroke-width="0.55"/>
<line x1="185.80" y1="478.21" x2="211.30" y2="478.21" stroke="#c4948e" stroke-width="0.55"/>
<line x1="186.08" y1="466.59" x2="186.08" y2="478.48" stroke="#c4948e" stroke-width="0.55"/>
<line x1="211.03" y1="466.59" x2="211.03" y2="478.48" stroke="#c4948e" stroke-width="0.55"/>
<line x1="85.70" y1="478.75" x2="110.45" y2="478.75" stroke="#959291" stroke-width="0.55"/>
<line x1="85.70" y1="490.09" x2="110.45" y2="490.09" stroke="#959291" stroke-width="0.55"/>
<line x1="85.98" y1="478.48" x2="85.98" y2="490.37" stroke="#959291" stroke-width="0.55"/>
<line x1="110.17" y1="478.48" x2="110.17" y2="490.37" stroke="#959291" stroke-width="0.55"/>
<line x1="135.50" y1="478.75" x2="160.65" y2="478.75" stroke="#959291" stroke-width="0.55"/>
<line x1="135.50" y1="490.09" x2="160.65" y2="490.09" stroke="#959291" stroke-width="0.55"/>
<line x1="135.78" y1="478.48" x2="135.78" y2="490.37" stroke="#959291" stroke-width="0.55"/>
<line x1="160.38" y1="478.48" x2="160.38" y2="490.37" stroke="#959291" stroke-width="0.55"/>
<line x1="110.45" y1="490.64" x2="135.50" y2="490.64" stroke="#c4948e" stroke-width="0.55"/>
<line x1="110.45" y1="501.98" x2="135.50" y2="501.98" stroke="#c4948e" stroke-width="0.55"/>
<line x1="110.73" y1="490.37" x2="110.73" y2="502.25" stroke="#c4948e" stroke-width="0.55"/>
<line x1="135.22" y1="490.37" x2="135.22" y2="502.25" stroke="#c4948e" stroke-width="0.55"/>
<line x1="185.80" y1="490.64" x2="211.30" y2="490.64" stroke="#c4948e" stroke-width="0.55"/>
<line x1="185.80" y1="501.98" x2="211.30" y2="501.98" stroke="#c4948e" stroke-width="0.55"/>
<line x1="186.08" y1="490.37" x2="186.08" y2="502.25" stroke="#c4948e" stroke-width="0.55"/>
<line x1="211.03" y1="490.37" x2="211.03" y2="502.25" stroke="#c4948e" stroke-width="0.55"/>
<line x1="85.70" y1="502.52" x2="110.45" y2="502.52" stroke="#959291" stroke-width="0.55"/>
<line x1="85.98" y1="502.25" x2="85.98" y2="514.13" stroke="#959291" stroke-width="0.55"/>
<line x1="110.17" y1="502.25" x2="110.17" y2="514.13" stroke="#959291" stroke-width="0.55"/>
<line x1="185.80" y1="502.52" x2="211.30" y2="502.52" stroke="#959291" stroke-width="0.55"/>
<line x1="185.80" y1="513.86" x2="211.30" y2="513.86" stroke="#959291" stroke-width="0.55"/>
<line x1="186.08" y1="502.25" x2="186.08" y2="514.13" stroke="#959291" stroke-width="0.55"/>
<line x1="211.03" y1="502.25" x2="211.03" y2="514.13" stroke="#959291" stroke-width="0.55"/>
<line x1="85.98" y1="514.13" x2="85.98" y2="526.02" stroke="#959291" stroke-width="0.55"/>
<line x1="110.45" y1="514.41" x2="135.50" y2="514.41" stroke="#959291" stroke-width="0.55"/>
<line x1="110.45" y1="525.75" x2="135.50" y2="525.75" stroke="#959291" stroke-width="0.55"/>
<line x1="135.22" y1="514.13" x2="135.22" y2="526.02" stroke="#959291" stroke-width="0.55"/>
<line x1="85.98" y1="526.02" x2="85.98" y2="537.90" stroke="#959291" stroke-width="0.55"/>
<line x1="110.17" y1="526.02" x2="110.17" y2="537.90" stroke="#959291" stroke-width="0.55"/>
<line x1="135.50" y1="526.29" x2="160.65" y2="526.29" stroke="#959291" stroke-width="0.55"/>
<line x1="135.50" y1="537.63" x2="160.65" y2="537.63" stroke="#959291" stroke-width="0.55"/>
<line x1="135.78" y1="526.02" x2="135.78" y2="537.90" stroke="#959291" stroke-width="0.55"/>
<line x1="160.38" y1="526.02" x2="160.38" y2="537.90" stroke="#959291" stroke-width="0.55"/>
<line x1="85.70" y1="549.51" x2="110.45" y2="549.51" stroke="#959291" stroke-width="0.55"/>
<line x1="85.98" y1="537.90" x2="85.98" y2="549.79" stroke="#959291" stroke-width="0.55"/>
<line x1="110.45" y1="538.18" x2="135.50" y2="538.18" stroke="#959291" stroke-width="0.55"/>
<line x1="110.45" y1="549.51" x2="135.50" y2="549.51" stroke="#959291" stroke-width="0.55"/>
<line x1="135.22" y1="537.90" x2="135.22" y2="549.79" stroke="#959291" stroke-width="0.55"/>
<line x1="135.50" y1="550.06" x2="160.65" y2="550.06" stroke="#161616" stroke-width="0.55"/>
<line x1="135.50" y1="561.40" x2="160.65" y2="561.40" stroke="#161616" stroke-width="0.55"/>
<line x1="135.78" y1="549.79" x2="135.78" y2="561.67" stroke="#161616" stroke-width="0.55"/>
<line x1="160.38" y1="549.79" x2="160.38" y2="561.67" stroke="#161616" stroke-width="0.55"/>
<line x1="261.65" y1="550.06" x2="286.30" y2="550.06" stroke="#161616" stroke-width="0.55"/>
<line x1="261.65" y1="561.40" x2="286.30" y2="561.40" stroke="#161616" stroke-width="0.55"/>
<line x1="261.92" y1="549.79" x2="261.92" y2="561.67" stroke="#161616" stroke-width="0.55"/>
<line x1="286.03" y1="549.79" x2="286.03" y2="561.67" stroke="#161616" stroke-width="0.55"/>
<line x1="211.30" y1="561.95" x2="235.90" y2="561.95" stroke="#959291" stroke-width="0.55"/>
<line x1="211.30" y1="573.28" x2="235.90" y2="573.28" stroke="#959291" stroke-width="0.55"/>
<line x1="211.58" y1="561.67" x2="211.58" y2="573.56" stroke="#959291" stroke-width="0.55"/>
<line x1="235.90" y1="561.95" x2="261.65" y2="561.95" stroke="#959291" stroke-width="0.55"/>
<line x1="235.90" y1="573.28" x2="261.65" y2="573.28" stroke="#959291" stroke-width="0.55"/>
<line x1="261.38" y1="561.67" x2="261.38" y2="573.56" stroke="#959291" stroke-width="0.55"/>
<line x1="135.50" y1="573.83" x2="160.65" y2="573.83" stroke="#c4948e" stroke-width="0.55"/>
<line x1="135.50" y1="585.17" x2="160.65" y2="585.17" stroke="#c4948e" stroke-width="0.55"/>
<line x1="135.78" y1="573.56" x2="135.78" y2="585.45" stroke="#c4948e" stroke-width="0.55"/>
<line x1="160.38" y1="573.56" x2="160.38" y2="585.45" stroke="#c4948e" stroke-width="0.55"/>
<line x1="235.90" y1="573.83" x2="261.65" y2="573.83" stroke="#c4948e" stroke-width="0.55"/>
<line x1="235.90" y1="585.17" x2="261.65" y2="585.17" stroke="#c4948e" stroke-width="0.55"/>
<line x1="236.18" y1="573.56" x2="236.18" y2="585.45" stroke="#c4948e" stroke-width="0.55"/>
<line x1="261.38" y1="573.56" x2="261.38" y2="585.45" stroke="#c4948e" stroke-width="0.55"/>
<line x1="85.70" y1="585.72" x2="110.45" y2="585.72" stroke="#959291" stroke-width="0.55"/>
<line x1="85.98" y1="585.45" x2="85.98" y2="597.33" stroke="#959291" stroke-width="0.55"/>
<line x1="110.17" y1="585.45" x2="110.17" y2="597.33" stroke="#959291" stroke-width="0.55"/>
<line x1="235.90" y1="585.72" x2="261.65" y2="585.72" stroke="#959291" stroke-width="0.55"/>
<line x1="235.90" y1="597.06" x2="261.65" y2="597.06" stroke="#959291" stroke-width="0.55"/>
<line x1="236.18" y1="585.45" x2="236.18" y2="597.33" stroke="#959291" stroke-width="0.55"/>
<line x1="261.38" y1="585.45" x2="261.38" y2="597.33" stroke="#959291" stroke-width="0.55"/>
<line x1="85.98" y1="597.33" x2="85.98" y2="609.22" stroke="#959291" stroke-width="0.55"/>
<line x1="110.17" y1="597.33" x2="110.17" y2="609.22" stroke="#959291" stroke-width="0.55"/>
<line x1="135.50" y1="597.61" x2="160.65" y2="597.61" stroke="#959291" stroke-width="0.55"/>
<line x1="135.50" y1="608.94" x2="160.65" y2="608.94" stroke="#959291" stroke-width="0.55"/>
<line x1="135.78" y1="597.33" x2="135.78" y2="609.22" stroke="#959291" stroke-width="0.55"/>
<line x1="160.38" y1="597.33" x2="160.38" y2="609.22" stroke="#959291" stroke-width="0.55"/>
<line x1="85.70" y1="620.83" x2="110.45" y2="620.83" stroke="#959291" stroke-width="0.55"/>
<line x1="85.98" y1="609.22" x2="85.98" y2="621.10" stroke="#959291" stroke-width="0.55"/>
<line x1="110.17" y1="609.22" x2="110.17" y2="621.10" stroke="#959291" stroke-width="0.55"/>
<line x1="160.65" y1="609.49" x2="185.80" y2="609.49" stroke="#959291" stroke-width="0.55"/>
<line x1="160.65" y1="620.83" x2="185.80" y2="620.83" stroke="#959291" stroke-width="0.55"/>
<line x1="160.93" y1="609.22" x2="160.93" y2="621.10" stroke="#959291" stroke-width="0.55"/>
<line x1="185.53" y1="609.22" x2="185.53" y2="621.10" stroke="#959291" stroke-width="0.55"/>
<line x1="135.50" y1="621.38" x2="160.65" y2="621.38" stroke="#c4948e" stroke-width="0.55"/>
<line x1="135.50" y1="632.71" x2="160.65" y2="632.71" stroke="#c4948e" stroke-width="0.55"/>
<line x1="135.78" y1="621.10" x2="135.78" y2="632.99" stroke="#c4948e" stroke-width="0.55"/>
<line x1="160.38" y1="621.10" x2="160.38" y2="632.99" stroke="#c4948e" stroke-width="0.55"/>
<line x1="185.80" y1="621.38" x2="211.30" y2="621.38" stroke="#c4948e" stroke-width="0.55"/>
<line x1="185.80" y1="632.71" x2="211.30" y2="632.71" stroke="#c4948e" stroke-width="0.55"/>
<line x1="186.08" y1="621.10" x2="186.08" y2="632.99" stroke="#c4948e" stroke-width="0.55"/>
<line x1="211.03" y1="621.10" x2="211.03" y2="632.99" stroke="#c4948e" stroke-width="0.55"/>
<line x1="85.70" y1="633.26" x2="110.45" y2="633.26" stroke="#959291" stroke-width="0.55"/>
<line x1="85.98" y1="632.99" x2="85.98" y2="644.87" stroke="#959291" stroke-width="0.55"/>
<line x1="110.17" y1="632.99" x2="110.17" y2="644.87" stroke="#959291" stroke-width="0.55"/>
<line x1="160.65" y1="633.26" x2="185.80" y2="633.26" stroke="#959291" stroke-width="0.55"/>
<line x1="160.65" y1="644.60" x2="185.80" y2="644.60" stroke="#959291" stroke-width="0.55"/>
<line x1="160.93" y1="632.99" x2="160.93" y2="644.87" stroke="#959291" stroke-width="0.55"/>
<line x1="185.53" y1="632.99" x2="185.53" y2="644.87" stroke="#959291" stroke-width="0.55"/>
<line x1="85.70" y1="656.48" x2="110.45" y2="656.48" stroke="#959291" stroke-width="0.55"/>
<line x1="85.98" y1="644.87" x2="85.98" y2="656.75" stroke="#959291" stroke-width="0.55"/>
<line x1="110.45" y1="645.14" x2="135.50" y2="645.14" stroke="#959291" stroke-width="0.55"/>
<line x1="110.45" y1="656.48" x2="135.50" y2="656.48" stroke="#959291" stroke-width="0.55"/>
<line x1="135.22" y1="644.87" x2="135.22" y2="656.75" stroke="#959291" stroke-width="0.55"/>
<line x1="110.45" y1="657.03" x2="135.50" y2="657.03" stroke="#161616" stroke-width="0.55"/>
<line x1="110.45" y1="668.37" x2="135.50" y2="668.37" stroke="#161616" stroke-width="0.55"/>
<line x1="110.73" y1="656.75" x2="110.73" y2="668.64" stroke="#161616" stroke-width="0.55"/>
<line x1="135.22" y1="656.75" x2="135.22" y2="668.64" stroke="#161616" stroke-width="0.55"/>
<line x1="235.90" y1="657.03" x2="261.65" y2="657.03" stroke="#959291" stroke-width="0.55"/>
<line x1="235.90" y1="668.37" x2="261.65" y2="668.37" stroke="#959291" stroke-width="0.55"/>
<line x1="236.18" y1="656.75" x2="236.18" y2="668.64" stroke="#959291" stroke-width="0.55"/>
<line x1="261.38" y1="656.75" x2="261.38" y2="668.64" stroke="#959291" stroke-width="0.55"/>
<line x1="110.45" y1="668.91" x2="135.50" y2="668.91" stroke="#959291" stroke-width="0.55"/>
<line x1="110.45" y1="680.25" x2="135.50" y2="680.25" stroke="#959291" stroke-width="0.55"/>
<line x1="110.73" y1="668.64" x2="110.73" y2="680.52" stroke="#959291" stroke-width="0.55"/>
<line x1="135.22" y1="668.64" x2="135.22" y2="680.52" stroke="#959291" stroke-width="0.55"/>
<line x1="261.65" y1="668.91" x2="286.30" y2="668.91" stroke="#959291" stroke-width="0.55"/>
<line x1="261.65" y1="680.25" x2="286.30" y2="680.25" stroke="#959291" stroke-width="0.55"/>
<line x1="261.92" y1="668.64" x2="261.92" y2="680.52" stroke="#959291" stroke-width="0.55"/>
<line x1="286.03" y1="668.64" x2="286.03" y2="680.52" stroke="#959291" stroke-width="0.55"/>
<line x1="85.70" y1="680.80" x2="110.45" y2="680.80" stroke="#959291" stroke-width="0.55"/>
<line x1="85.70" y1="692.13" x2="110.45" y2="692.13" stroke="#959291" stroke-width="0.55"/>
<line x1="85.98" y1="680.52" x2="85.98" y2="692.41" stroke="#959291" stroke-width="0.55"/>
<line x1="110.17" y1="680.52" x2="110.17" y2="692.41" stroke="#959291" stroke-width="0.55"/>
<line x1="211.30" y1="680.80" x2="235.90" y2="680.80" stroke="#959291" stroke-width="0.55"/>
<line x1="211.30" y1="692.13" x2="235.90" y2="692.13" stroke="#959291" stroke-width="0.55"/>
<line x1="211.58" y1="680.52" x2="211.58" y2="692.41" stroke="#959291" stroke-width="0.55"/>
<line x1="235.62" y1="680.52" x2="235.62" y2="692.41" stroke="#959291" stroke-width="0.55"/>
<line x1="135.50" y1="692.68" x2="160.65" y2="692.68" stroke="#959291" stroke-width="0.55"/>
<line x1="135.78" y1="692.41" x2="135.78" y2="704.29" stroke="#959291" stroke-width="0.55"/>
<line x1="160.38" y1="692.41" x2="160.38" y2="704.29" stroke="#959291" stroke-width="0.55"/>
<line x1="235.90" y1="692.68" x2="261.65" y2="692.68" stroke="#959291" stroke-width="0.55"/>
<line x1="235.90" y1="704.02" x2="261.65" y2="704.02" stroke="#959291" stroke-width="0.55"/>
<line x1="236.18" y1="692.41" x2="236.18" y2="704.29" stroke="#959291" stroke-width="0.55"/>
<line x1="261.38" y1="692.41" x2="261.38" y2="704.29" stroke="#959291" stroke-width="0.55"/>
<line x1="135.50" y1="715.90" x2="160.65" y2="715.90" stroke="#959291" stroke-width="0.55"/>
<line x1="135.78" y1="704.29" x2="135.78" y2="716.18" stroke="#959291" stroke-width="0.55"/>
<line x1="160.38" y1="704.29" x2="160.38" y2="716.18" stroke="#959291" stroke-width="0.55"/>
<line x1="261.65" y1="704.57" x2="286.30" y2="704.57" stroke="#959291" stroke-width="0.55"/>
<line x1="261.65" y1="715.90" x2="286.30" y2="715.90" stroke="#959291" stroke-width="0.55"/>
<line x1="261.92" y1="704.29" x2="261.92" y2="716.18" stroke="#959291" stroke-width="0.55"/>
<line x1="286.03" y1="704.29" x2="286.03" y2="716.18" stroke="#959291" stroke-width="0.55"/>
<line x1="160.65" y1="716.45" x2="185.80" y2="716.45" stroke="#959291" stroke-width="0.55"/>
<line x1="160.65" y1="727.79" x2="185.80" y2="727.79" stroke="#959291" stroke-width="0.55"/>
<line x1="160.93" y1="716.18" x2="160.93" y2="728.06" stroke="#959291" stroke-width="0.55"/>
<line x1="185.53" y1="716.18" x2="185.53" y2="728.06" stroke="#959291" stroke-width="0.55"/>
<line x1="235.90" y1="716.45" x2="261.65" y2="716.45" stroke="#959291" stroke-width="0.55"/>
<line x1="235.90" y1="727.79" x2="261.65" y2="727.79" stroke="#959291" stroke-width="0.55"/>
<line x1="236.18" y1="716.18" x2="236.18" y2="728.06" stroke="#959291" stroke-width="0.55"/>
<line x1="261.38" y1="716.18" x2="261.38" y2="728.06" stroke="#959291" stroke-width="0.55"/>
<line x1="185.80" y1="728.34" x2="211.30" y2="728.34" stroke="#959291" stroke-width="0.55"/>
<line x1="185.80" y1="739.68" x2="211.30" y2="739.68" stroke="#959291" stroke-width="0.55"/>
<line x1="186.08" y1="728.06" x2="186.08" y2="739.95" stroke="#959291" stroke-width="0.55"/>
<line x1="211.03" y1="728.06" x2="211.03" y2="739.95" stroke="#959291" stroke-width="0.55"/>
<line x1="261.65" y1="728.34" x2="286.30" y2="728.34" stroke="#959291" stroke-width="0.55"/>
<line x1="261.92" y1="728.06" x2="261.92" y2="739.95" stroke="#959291" stroke-width="0.55"/>
<line x1="286.03" y1="728.06" x2="286.03" y2="739.95" stroke="#959291" stroke-width="0.55"/>
<line x1="235.90" y1="740.23" x2="261.65" y2="740.23" stroke="#959291" stroke-width="0.55"/>
<line x1="235.90" y1="751.56" x2="261.65" y2="751.56" stroke="#959291" stroke-width="0.55"/>
<line x1="236.18" y1="739.95" x2="236.18" y2="751.84" stroke="#959291" stroke-width="0.55"/>
<line x1="261.65" y1="751.56" x2="286.30" y2="751.56" stroke="#959291" stroke-width="0.55"/>
<line x1="286.03" y1="739.95" x2="286.03" y2="751.84" stroke="#959291" stroke-width="0.55"/>
<line x1="85.70" y1="752.11" x2="110.45" y2="752.11" stroke="#c4948e" stroke-width="0.55"/>
<line x1="85.70" y1="763.45" x2="110.45" y2="763.45" stroke="#c4948e" stroke-width="0.55"/>
<line x1="85.98" y1="751.84" x2="85.98" y2="763.72" stroke="#c4948e" stroke-width="0.55"/>
<line x1="110.45" y1="752.11" x2="135.50" y2="752.11" stroke="#c4948e" stroke-width="0.55"/>
<line x1="110.45" y1="763.45" x2="135.50" y2="763.45" stroke="#c4948e" stroke-width="0.55"/>
<line x1="135.22" y1="751.84" x2="135.22" y2="763.72" stroke="#c4948e" stroke-width="0.55"/>
<line x1="85.70" y1="764.00" x2="110.45" y2="764.00" stroke="#959291" stroke-width="0.55"/>
<line x1="85.70" y1="775.33" x2="110.45" y2="775.33" stroke="#959291" stroke-width="0.55"/>
<line x1="85.98" y1="763.72" x2="85.98" y2="775.61" stroke="#959291" stroke-width="0.55"/>
<line x1="110.17" y1="763.72" x2="110.17" y2="775.61" stroke="#959291" stroke-width="0.55"/>
<line x1="160.65" y1="764.00" x2="185.80" y2="764.00" stroke="#c38754" stroke-width="0.55"/>
<line x1="160.65" y1="775.33" x2="185.80" y2="775.33" stroke="#c38754" stroke-width="0.55"/>
<line x1="160.93" y1="763.72" x2="160.93" y2="775.61" stroke="#c38754" stroke-width="0.55"/>
<line x1="185.53" y1="763.72" x2="185.53" y2="775.61" stroke="#c38754" stroke-width="0.55"/>
<line x1="160.65" y1="775.88" x2="185.80" y2="775.88" stroke="#24804c" stroke-width="0.55"/>
<line x1="160.65" y1="787.22" x2="185.80" y2="787.22" stroke="#24804c" stroke-width="0.55"/>
<line x1="160.93" y1="775.61" x2="160.93" y2="787.49" stroke="#24804c" stroke-width="0.55"/>
<line x1="185.53" y1="775.61" x2="185.53" y2="787.49" stroke="#24804c" stroke-width="0.55"/>
<line x1="235.90" y1="787.76" x2="261.65" y2="787.76" stroke="#97a46a" stroke-width="0.55"/>
<line x1="235.90" y1="799.10" x2="261.65" y2="799.10" stroke="#97a46a" stroke-width="0.55"/>
<line x1="236.18" y1="787.49" x2="236.18" y2="799.38" stroke="#97a46a" stroke-width="0.55"/>
<line x1="261.38" y1="787.49" x2="261.38" y2="799.38" stroke="#97a46a" stroke-width="0.55"/>
<line x1="135.50" y1="799.65" x2="160.65" y2="799.65" stroke="#97a46a" stroke-width="0.55"/>
<line x1="135.50" y1="810.99" x2="160.65" y2="810.99" stroke="#97a46a" stroke-width="0.55"/>
<line x1="135.78" y1="799.38" x2="135.78" y2="811.26" stroke="#97a46a" stroke-width="0.55"/>
<line x1="160.38" y1="799.38" x2="160.38" y2="811.26" stroke="#97a46a" stroke-width="0.55"/>
<line x1="84.5" y1="50.47" x2="287.1" y2="50.47" stroke="#1c1c1c" stroke-width="1.15"/>
<line x1="84.5" y1="811.3" x2="287.1" y2="811.3" stroke="#1c1c1c" stroke-width="1.4"/>
<line x1="85.25" y1="49.9" x2="85.25" y2="812.0" stroke="#1c1c1c" stroke-width="1.4"/>
<line x1="286.5" y1="49.9" x2="286.5" y2="812.0" stroke="#1c1c1c" stroke-width="1.15"/>
<line x1="84.9" y1="30.15" x2="286.9" y2="30.15" stroke="#2a2a2a" stroke-width="1.45"/>
<g font-family="Liberation Sans, sans-serif" style="font-kerning:none" opacity="0.995">
<text transform="translate(135.58,25.05) rotate(0.05) scale(0.9030,1)" font-size="12.43" fill="#1e1e1e" stroke="#1e1e1e" stroke-width="0.3">HHV8-negative EBL</text>
<text transform="translate(88.13,44.55) rotate(0.05) scale(0.9880,1)" font-size="10.95" fill="#1e1e1e" stroke="#1e1e1e" stroke-width="0.3">001</text>
<text transform="translate(113.43,44.55) rotate(0.05) scale(0.9889,1)" font-size="10.95" fill="#1e1e1e" stroke="#1e1e1e" stroke-width="0.3">002</text>
<text transform="translate(138.63,44.55) rotate(0.05) scale(0.9850,1)" font-size="10.95" fill="#1e1e1e" stroke="#1e1e1e" stroke-width="0.3">003</text>
<text transform="translate(164.13,44.55) rotate(0.05) scale(0.9760,1)" font-size="10.95" fill="#1e1e1e" stroke="#1e1e1e" stroke-width="0.3">004</text>
<text transform="translate(189.13,44.55) rotate(0.05) scale(0.9838,1)" font-size="10.95" fill="#1e1e1e" stroke="#1e1e1e" stroke-width="0.3">005</text>
<text transform="translate(214.73,44.55) rotate(0.05) scale(0.9850,1)" font-size="10.95" fill="#1e1e1e" stroke="#1e1e1e" stroke-width="0.3">006</text>
<text transform="translate(239.63,44.55) rotate(0.05) scale(0.9889,1)" font-size="10.95" fill="#1e1e1e" stroke="#1e1e1e" stroke-width="0.3">007</text>
<text transform="translate(264.73,44.55) rotate(0.05) scale(0.9847,1)" font-size="10.95" fill="#1e1e1e" stroke="#1e1e1e" stroke-width="0.3">008</text>
<text transform="translate(10.48,59.45) rotate(0.05) scale(0.9140,1)" font-size="10.95" fill="#1e1e1e" stroke="#1e1e1e" stroke-width="0.3">PIM1</text>
<text transform="translate(10.89,71.33) rotate(0.05) scale(0.9731,1)" font-size="10.95" fill="#5283bb" stroke="#5283bb" stroke-width="0.3">3p14.2</text>
<text transform="translate(10.77,83.21) rotate(0.05) scale(0.9605,1)" font-size="10.95" fill="#5283bb" stroke="#5283bb" stroke-width="0.3">6q21</text>
<text transform="translate(10.49,95.09) rotate(0.05) scale(0.9055,1)" font-size="10.95" fill="#1e1e1e" stroke="#1e1e1e" stroke-width="0.3">HIST1H1E</text>
<text transform="translate(10.47,106.97) rotate(0.05) scale(0.9895,1)" font-size="10.95" fill="#bd3a4c" stroke="#bd3a4c" stroke-width="0.3">1q31</text>
<text transform="translate(10.42,118.85) rotate(0.05) scale(0.9776,1)" font-size="10.95" fill="#1e1e1e" stroke="#1e1e1e" stroke-width="0.3">MYD88</text>
<text transform="translate(10.43,130.73) rotate(0.05) scale(0.8639,1)" font-size="10.95" fill="#1e1e1e" stroke="#1e1e1e" stroke-width="0.3">IRF4</text>
<text transform="translate(10.88,142.61) rotate(0.05) scale(0.8530,1)" font-size="10.95" fill="#1e1e1e" stroke="#1e1e1e" stroke-width="0.3">SYNE1</text>
<text transform="translate(10.52,154.49) rotate(0.05) scale(0.8669,1)" font-size="10.95" fill="#1e1e1e" stroke="#1e1e1e" stroke-width="0.3">BTG1</text>
<text transform="translate(10.49,166.37) rotate(0.05) scale(0.8969,1)" font-size="10.95" fill="#1e1e1e" stroke="#1e1e1e" stroke-width="0.3">BTG2</text>
<text transform="translate(10.46,178.25) rotate(0.05) scale(0.9348,1)" font-size="10.95" fill="#1e1e1e" stroke="#1e1e1e" stroke-width="0.3">KLHL14</text>
<text transform="translate(10.48,190.13) rotate(0.05) scale(0.9141,1)" font-size="10.95" fill="#1e1e1e" stroke="#1e1e1e" stroke-width="0.3">DUSP2</text>
<text transform="translate(10.46,202.01) rotate(0.05) scale(0.9392,1)" font-size="10.95" fill="#1e1e1e" stroke="#1e1e1e" stroke-width="0.3">KLHL6</text>
<text transform="translate(10.51,213.89) rotate(0.05) scale(0.8748,1)" font-size="10.95" fill="#1e1e1e" stroke="#1e1e1e" stroke-width="0.3">ETV6</text>
<text transform="translate(10.45,225.77) rotate(0.05) scale(0.9496,1)" font-size="10.95" fill="#1e1e1e" stroke="#1e1e1e" stroke-width="0.3">HIST1H2AM</text>
<text transform="translate(10.51,237.65) rotate(0.05) scale(0.8747,1)" font-size="10.95" fill="#1e1e1e" stroke="#1e1e1e" stroke-width="0.3">DST</text>
<text transform="translate(10.86,249.53) rotate(0.05) scale(0.8827,1)" font-size="10.95" fill="#1e1e1e" stroke="#1e1e1e" stroke-width="0.3">SETD1B</text>
<text transform="translate(10.52,261.41) rotate(0.05) scale(0.8630,1)" font-size="10.95" fill="#1e1e1e" stroke="#1e1e1e" stroke-width="0.3">FAT4</text>
<text transform="translate(10.50,273.29) rotate(0.05) scale(0.8898,1)" font-size="10.95" fill="#1e1e1e" stroke="#1e1e1e" stroke-width="0.3">DCHS1</text>
<text transform="translate(10.45,285.17) rotate(0.05) scale(1.0236,1)" font-size="10.95" fill="#bd3a4c" stroke="#bd3a4c" stroke-width="0.3">13q32</text>
<text transform="translate(10.42,297.05) rotate(0.05) scale(1.0515,1)" font-size="10.95" fill="#5283bb" stroke="#5283bb" stroke-width="0.3">15p</text>
<text transform="translate(10.45,308.93) rotate(0.05) scale(0.9427,1)" font-size="10.95" fill="#1e1e1e" stroke="#1e1e1e" stroke-width="0.3">KMT2A</text>
<text transform="translate(10.48,320.81) rotate(0.05) scale(0.9149,1)" font-size="10.95" fill="#1e1e1e" stroke="#1e1e1e" stroke-width="0.3">MEF2B</text>
<text transform="translate(10.83,332.69) rotate(0.05) scale(0.8418,1)" font-size="10.95" fill="#1e1e1e" stroke="#1e1e1e" stroke-width="0.3">CREBBP</text>
<text transform="translate(11.28,344.57) rotate(0.05) scale(0.9073,1)" font-size="10.95" fill="#1e1e1e" stroke="#1e1e1e" stroke-width="0.3">ARID1A</text>
<text transform="translate(11.28,356.45) rotate(0.05) scale(0.9074,1)" font-size="10.95" fill="#1e1e1e" stroke="#1e1e1e" stroke-width="0.3">ARID1B</text>
<text transform="translate(10.43,368.33) rotate(0.05) scale(0.9737,1)" font-size="10.95" fill="#1e1e1e" stroke="#1e1e1e" stroke-width="0.3">KMT2D</text>
<text transform="translate(10.43,380.21) rotate(0.05) scale(0.9669,1)" font-size="10.95" fill="#1e1e1e" stroke="#1e1e1e" stroke-width="0.3">KDM6B</text>
<text transform="translate(10.48,392.09) rotate(0.05) scale(0.9174,1)" font-size="10.95" fill="#1e1e1e" stroke="#1e1e1e" stroke-width="0.3">PRDM1</text>
<text transform="translate(10.47,403.97) rotate(0.05) scale(0.9208,1)" font-size="10.95" fill="#2a9150" stroke="#2a9150" stroke-width="0.3">MYC-R</text>
<text transform="translate(10.49,415.85) rotate(0.05) scale(0.9017,1)" font-size="10.95" fill="#2a9150" stroke="#2a9150" stroke-width="0.3">BCL6-R</text>
<text transform="translate(10.47,427.73) rotate(0.05) scale(0.9284,1)" font-size="10.95" fill="#1e1e1e" stroke="#1e1e1e" stroke-width="0.3">NOTCH2</text>
<text transform="translate(10.83,439.61) rotate(0.05) scale(0.8374,1)" font-size="10.95" fill="#1e1e1e" stroke="#1e1e1e" stroke-width="0.3">CELSR2</text>
<text transform="translate(10.71,451.49) rotate(0.05) scale(1.0752,1)" font-size="10.95" fill="#bd3a4c" stroke="#bd3a4c" stroke-width="0.3">2q</text>
<text transform="translate(11.09,463.37) rotate(0.05) scale(0.8366,1)" font-size="10.95" fill="#1e1e1e" stroke="#1e1e1e" stroke-width="0.3">TSC2</text>
<text transform="translate(10.73,475.25) rotate(0.05) scale(1.0145,1)" font-size="10.95" fill="#bd3a4c" stroke="#bd3a4c" stroke-width="0.3">7</text>
<text transform="translate(10.50,487.13) rotate(0.05) scale(0.8907,1)" font-size="10.95" fill="#1e1e1e" stroke="#1e1e1e" stroke-width="0.3">LRRN3</text>
<text transform="translate(10.79,499.01) rotate(0.05) scale(1.0678,1)" font-size="10.95" fill="#bd3a4c" stroke="#bd3a4c" stroke-width="0.3">8q</text>
<text transform="translate(10.44,510.89) rotate(0.05) scale(0.9580,1)" font-size="10.95" fill="#1e1e1e" stroke="#1e1e1e" stroke-width="0.3">MYC</text>
<text transform="translate(10.78,522.77) rotate(0.05) scale(0.9381,1)" font-size="10.95" fill="#1e1e1e" stroke="#1e1e1e" stroke-width="0.3">CD79B</text>
<text transform="translate(11.08,534.65) rotate(0.05) scale(0.8770,1)" font-size="10.95" fill="#1e1e1e" stroke="#1e1e1e" stroke-width="0.3">TBL1XR1</text>
<text transform="translate(10.80,546.53) rotate(0.05) scale(0.9058,1)" font-size="10.95" fill="#1e1e1e" stroke="#1e1e1e" stroke-width="0.3">CARD11</text>
<text transform="translate(11.08,558.41) rotate(0.05) scale(0.8883,1)" font-size="10.95" fill="#1e1e1e" stroke="#1e1e1e" stroke-width="0.3">TNFAIP3</text>
<text transform="translate(10.88,570.29) rotate(0.05) scale(0.8437,1)" font-size="10.95" fill="#1e1e1e" stroke="#1e1e1e" stroke-width="0.3">SOCS1</text>
<text transform="translate(10.42,582.17) rotate(0.05) scale(1.0515,1)" font-size="10.95" fill="#bd3a4c" stroke="#bd3a4c" stroke-width="0.3">10p</text>
<text transform="translate(10.97,594.05) rotate(0.05) scale(0.9463,1)" font-size="10.95" fill="#1e1e1e" stroke="#1e1e1e" stroke-width="0.3">ZNF608</text>
<text transform="translate(10.78,605.93) rotate(0.05) scale(0.9393,1)" font-size="10.95" fill="#1e1e1e" stroke="#1e1e1e" stroke-width="0.3">CDH23</text>
<text transform="translate(10.53,617.81) rotate(0.05) scale(0.8520,1)" font-size="10.95" fill="#1e1e1e" stroke="#1e1e1e" stroke-width="0.3">FAS</text>
<text transform="translate(10.41,629.69) rotate(0.05) scale(1.0666,1)" font-size="10.95" fill="#bd3a4c" stroke="#bd3a4c" stroke-width="0.3">12q</text>
<text transform="translate(10.51,641.57) rotate(0.05) scale(0.8839,1)" font-size="10.95" fill="#1e1e1e" stroke="#1e1e1e" stroke-width="0.3">PAX5</text>
<text transform="translate(10.50,653.45) rotate(0.05) scale(0.8875,1)" font-size="10.95" fill="#1e1e1e" stroke="#1e1e1e" stroke-width="0.3">MPEG1</text>
<text transform="translate(10.99,665.33) rotate(0.05) scale(0.9041,1)" font-size="10.95" fill="#1e1e1e" stroke="#1e1e1e" stroke-width="0.3">ZFHX4</text>
<text transform="translate(10.53,677.21) rotate(0.05) scale(0.8616,1)" font-size="10.95" fill="#1e1e1e" stroke="#1e1e1e" stroke-width="0.3">ERBB3</text>
<text transform="translate(10.98,689.09) rotate(0.05) scale(0.9084,1)" font-size="10.95" fill="#1e1e1e" stroke="#1e1e1e" stroke-width="0.3">ZFHX3</text>
<text transform="translate(10.48,700.97) rotate(0.05) scale(0.9173,1)" font-size="10.95" fill="#1e1e1e" stroke="#1e1e1e" stroke-width="0.3">HIST1H3B</text>
<text transform="translate(11.28,712.85) rotate(0.05) scale(0.9070,1)" font-size="10.95" fill="#1e1e1e" stroke="#1e1e1e" stroke-width="0.3">ABCA7</text>
<text transform="translate(11.28,724.73) rotate(0.05) scale(0.8932,1)" font-size="10.95" fill="#1e1e1e" stroke="#1e1e1e" stroke-width="0.3">ACTB</text>
<text transform="translate(10.79,736.61) rotate(0.05) scale(0.9095,1)" font-size="10.95" fill="#1e1e1e" stroke="#1e1e1e" stroke-width="0.3">CCDC80</text>
<text transform="translate(10.49,748.49) rotate(0.05) scale(0.9040,1)" font-size="10.95" fill="#1e1e1e" stroke="#1e1e1e" stroke-width="0.3">KLF2</text>
<text transform="translate(10.41,760.37) rotate(0.05) scale(1.0666,1)" font-size="10.95" fill="#bd3a4c" stroke="#bd3a4c" stroke-width="0.3">18q</text>
<text transform="translate(10.49,772.25) rotate(0.05) scale(0.8962,1)" font-size="10.95" fill="#1e1e1e" stroke="#1e1e1e" stroke-width="0.3">BCL2</text>
<text transform="translate(10.49,784.13) rotate(0.05) scale(0.9017,1)" font-size="10.95" fill="#2a9150" stroke="#2a9150" stroke-width="0.3">BCL2-R</text>
<text transform="translate(11.08,796.01) rotate(0.05) scale(0.8993,1)" font-size="10.95" fill="#2a9150" stroke="#2a9150" stroke-width="0.3">TP63-R</text>
<text transform="translate(10.46,807.89) rotate(0.05) scale(0.9321,1)" font-size="10.95" fill="#2a9150" stroke="#2a9150" stroke-width="0.3">KMT2D-R</text>
<text transform="translate(305.95,21.00) rotate(0.05) scale(1.0126,1)" font-size="13.30" fill="#1e1e1e" stroke="#1e1e1e" stroke-width="0.3">Freq.</text>
<text transform="translate(298.21,37.15) rotate(0.05) scale(1.0269,1)" font-size="11.00" fill="#1e1e1e" stroke="#1e1e1e" stroke-width="0.3">0</text>
<text transform="translate(315.50,37.15) rotate(0.05) scale(1.0207,1)" font-size="11.00" fill="#1e1e1e" stroke="#1e1e1e" stroke-width="0.3">50</text>
<text transform="translate(332.36,37.15) rotate(0.05) scale(1.0594,1)" font-size="11.00" fill="#1e1e1e" stroke="#1e1e1e" stroke-width="0.3">100</text>
</g>
<line x1="296.15" y1="47.5" x2="346.7" y2="47.5" stroke="#050505" stroke-width="1.15"/>
<line x1="301.3" y1="43.0" x2="301.3" y2="47.5" stroke="#050505" stroke-width="0.95"/>
<line x1="321.45" y1="43.0" x2="321.45" y2="47.5" stroke="#050505" stroke-width="0.95"/>
<line x1="341.7" y1="43.0" x2="341.7" y2="47.5" stroke="#050505" stroke-width="0.95"/>
<rect x="302.25" y="51.85" width="28.35" height="9.1" fill="#6c6b67" stroke="#55544f" stroke-width="0.5"/>
<rect x="302.25" y="63.73" width="28.35" height="9.1" fill="#6c6b67" stroke="#55544f" stroke-width="0.5"/>
<rect x="302.25" y="75.61" width="28.35" height="9.1" fill="#6c6b67" stroke="#55544f" stroke-width="0.5"/>
<rect x="302.25" y="87.50" width="24.00" height="9.1" fill="#6c6b67" stroke="#55544f" stroke-width="0.5"/>
<rect x="302.25" y="99.38" width="24.00" height="9.1" fill="#6c6b67" stroke="#55544f" stroke-width="0.5"/>
<rect x="302.25" y="111.26" width="19.25" height="9.1" fill="#6c6b67" stroke="#55544f" stroke-width="0.5"/>
<rect x="302.25" y="123.14" width="19.25" height="9.1" fill="#6c6b67" stroke="#55544f" stroke-width="0.5"/>
<rect x="302.25" y="135.02" width="19.25" height="9.1" fill="#6c6b67" stroke="#55544f" stroke-width="0.5"/>
<rect x="302.25" y="146.91" width="19.25" height="9.1" fill="#6c6b67" stroke="#55544f" stroke-width="0.5"/>
<rect x="302.25" y="158.79" width="14.16" height="9.1" fill="#6c6b67" stroke="#55544f" stroke-width="0.5"/>
<rect x="302.25" y="170.67" width="14.16" height="9.1" fill="#6c6b67" stroke="#55544f" stroke-width="0.5"/>
<rect x="302.25" y="182.55" width="14.16" height="9.1" fill="#6c6b67" stroke="#55544f" stroke-width="0.5"/>
<rect x="302.25" y="194.43" width="14.16" height="9.1" fill="#6c6b67" stroke="#55544f" stroke-width="0.5"/>
<rect x="302.25" y="206.32" width="14.16" height="9.1" fill="#6c6b67" stroke="#55544f" stroke-width="0.5"/>
<rect x="302.25" y="218.20" width="14.16" height="9.1" fill="#6c6b67" stroke="#55544f" stroke-width="0.5"/>
<rect x="302.25" y="230.08" width="14.16" height="9.1" fill="#6c6b67" stroke="#55544f" stroke-width="0.5"/>
<rect x="302.25" y="241.96" width="14.16" height="9.1" fill="#6c6b67" stroke="#55544f" stroke-width="0.5"/>
<rect x="302.25" y="253.84" width="14.16" height="9.1" fill="#6c6b67" stroke="#55544f" stroke-width="0.5"/>
<rect x="302.25" y="265.73" width="14.16" height="9.1" fill="#6c6b67" stroke="#55544f" stroke-width="0.5"/>
<rect x="302.25" y="277.61" width="14.16" height="9.1" fill="#6c6b67" stroke="#55544f" stroke-width="0.5"/>
<rect x="302.25" y="289.49" width="14.16" height="9.1" fill="#6c6b67" stroke="#55544f" stroke-width="0.5"/>
<rect x="302.25" y="301.37" width="14.16" height="9.1" fill="#6c6b67" stroke="#55544f" stroke-width="0.5"/>
<rect x="302.25" y="313.25" width="14.16" height="9.1" fill="#6c6b67" stroke="#55544f" stroke-width="0.5"/>
<rect x="302.25" y="325.14" width="14.16" height="9.1" fill="#6c6b67" stroke="#55544f" stroke-width="0.5"/>
<rect x="302.25" y="337.02" width="14.16" height="9.1" fill="#6c6b67" stroke="#55544f" stroke-width="0.5"/>
<rect x="302.25" y="348.90" width="9.25" height="9.1" fill="#6c6b67" stroke="#55544f" stroke-width="0.5"/>
<rect x="302.25" y="360.78" width="9.25" height="9.1" fill="#6c6b67" stroke="#55544f" stroke-width="0.5"/>
<rect x="302.25" y="372.66" width="9.25" height="9.1" fill="#6c6b67" stroke="#55544f" stroke-width="0.5"/>
<rect x="302.25" y="384.55" width="9.25" height="9.1" fill="#6c6b67" stroke="#55544f" stroke-width="0.5"/>
<rect x="302.25" y="396.43" width="9.25" height="9.1" fill="#6c6b67" stroke="#55544f" stroke-width="0.5"/>
<rect x="302.25" y="408.31" width="9.25" height="9.1" fill="#6c6b67" stroke="#55544f" stroke-width="0.5"/>
<rect x="302.25" y="420.19" width="9.25" height="9.1" fill="#6c6b67" stroke="#55544f" stroke-width="0.5"/>
<rect x="302.25" y="432.07" width="9.25" height="9.1" fill="#6c6b67" stroke="#55544f" stroke-width="0.5"/>
<rect x="302.25" y="443.96" width="9.25" height="9.1" fill="#6c6b67" stroke="#55544f" stroke-width="0.5"/>
<rect x="302.25" y="455.84" width="9.25" height="9.1" fill="#6c6b67" stroke="#55544f" stroke-width="0.5"/>
<rect x="302.25" y="467.72" width="9.25" height="9.1" fill="#6c6b67" stroke="#55544f" stroke-width="0.5"/>
<rect x="302.25" y="479.60" width="9.25" height="9.1" fill="#6c6b67" stroke="#55544f" stroke-width="0.5"/>
<rect x="302.25" y="491.48" width="9.25" height="9.1" fill="#6c6b67" stroke="#55544f" stroke-width="0.5"/>
<rect x="302.25" y="503.37" width="9.25" height="9.1" fill="#6c6b67" stroke="#55544f" stroke-width="0.5"/>
<rect x="302.25" y="515.25" width="9.25" height="9.1" fill="#6c6b67" stroke="#55544f" stroke-width="0.5"/>
<rect x="302.25" y="527.13" width="9.25" height="9.1" fill="#6c6b67" stroke="#55544f" stroke-width="0.5"/>
<rect x="302.25" y="539.01" width="9.25" height="9.1" fill="#6c6b67" stroke="#55544f" stroke-width="0.5"/>
<rect x="302.25" y="550.89" width="9.25" height="9.1" fill="#6c6b67" stroke="#55544f" stroke-width="0.5"/>
<rect x="302.25" y="562.78" width="9.25" height="9.1" fill="#6c6b67" stroke="#55544f" stroke-width="0.5"/>
<rect x="302.25" y="574.66" width="9.25" height="9.1" fill="#6c6b67" stroke="#55544f" stroke-width="0.5"/>
<rect x="302.25" y="586.54" width="9.25" height="9.1" fill="#6c6b67" stroke="#55544f" stroke-width="0.5"/>
<rect x="302.25" y="598.42" width="9.25" height="9.1" fill="#6c6b67" stroke="#55544f" stroke-width="0.5"/>
<rect x="302.25" y="610.30" width="9.25" height="9.1" fill="#6c6b67" stroke="#55544f" stroke-width="0.5"/>
<rect x="302.25" y="622.19" width="9.25" height="9.1" fill="#6c6b67" stroke="#55544f" stroke-width="0.5"/>
<rect x="302.25" y="634.07" width="9.25" height="9.1" fill="#6c6b67" stroke="#55544f" stroke-width="0.5"/>
<rect x="302.25" y="645.95" width="9.25" height="9.1" fill="#6c6b67" stroke="#55544f" stroke-width="0.5"/>
<rect x="302.25" y="657.83" width="9.25" height="9.1" fill="#6c6b67" stroke="#55544f" stroke-width="0.5"/>
<rect x="302.25" y="669.71" width="9.25" height="9.1" fill="#6c6b67" stroke="#55544f" stroke-width="0.5"/>
<rect x="302.25" y="681.60" width="9.25" height="9.1" fill="#6c6b67" stroke="#55544f" stroke-width="0.5"/>
<rect x="302.25" y="693.48" width="9.25" height="9.1" fill="#6c6b67" stroke="#55544f" stroke-width="0.5"/>
<rect x="302.25" y="705.36" width="9.25" height="9.1" fill="#6c6b67" stroke="#55544f" stroke-width="0.5"/>
<rect x="302.25" y="717.24" width="9.25" height="9.1" fill="#6c6b67" stroke="#55544f" stroke-width="0.5"/>
<rect x="302.25" y="729.12" width="9.25" height="9.1" fill="#6c6b67" stroke="#55544f" stroke-width="0.5"/>
<rect x="302.25" y="741.01" width="9.25" height="9.1" fill="#6c6b67" stroke="#55544f" stroke-width="0.5"/>
<rect x="302.25" y="752.89" width="9.25" height="9.1" fill="#6c6b67" stroke="#55544f" stroke-width="0.5"/>
<rect x="302.25" y="764.77" width="9.25" height="9.1" fill="#6c6b67" stroke="#55544f" stroke-width="0.5"/>
<rect x="302.25" y="776.65" width="4.15" height="9.1" fill="#6c6b67" stroke="#55544f" stroke-width="0.5"/>
<rect x="302.25" y="788.53" width="4.15" height="9.1" fill="#6c6b67" stroke="#55544f" stroke-width="0.5"/>
<rect x="302.25" y="800.42" width="4.15" height="9.1" fill="#6c6b67" stroke="#55544f" stroke-width="0.5"/>
<rect x="354.8" y="56.36" width="19.0" height="11.3" fill="#191919" stroke="#141414" stroke-width="0.7"/>
<rect x="354.8" y="74.76" width="19.0" height="11.3" fill="#a6a3a2" stroke="#888584" stroke-width="0.7"/>
<rect x="354.8" y="93.16" width="19.0" height="11.3" fill="#d9965e" stroke="#b17a4d" stroke-width="0.7"/>
<rect x="354.8" y="111.56" width="19.0" height="11.3" fill="#bb3843" stroke="#992d36" stroke-width="0.7"/>
<rect x="354.8" y="129.96" width="19.0" height="11.3" fill="#daa59e" stroke="#b28781" stroke-width="0.7"/>
<rect x="354.8" y="148.36" width="19.0" height="11.3" fill="#3e6283" stroke="#32506b" stroke-width="0.7"/>
<rect x="354.8" y="166.76" width="19.0" height="11.3" fill="#5f8cb8" stroke="#4d7296" stroke-width="0.7"/>
<rect x="354.8" y="185.16" width="19.0" height="11.3" fill="#288f55" stroke="#207545" stroke-width="0.7"/>
<rect x="354.8" y="203.56" width="19.0" height="11.3" fill="#a8b776" stroke="#899660" stroke-width="0.7"/>
<g font-family="Liberation Sans, sans-serif" style="font-kerning:none" opacity="0.995">
<text transform="translate(379.28,66.75) rotate(0.05) scale(1.0419,1)" font-size="11.55" fill="#1e1e1e" stroke="#1e1e1e" stroke-width="0.3">Truncating mutation</text>
<text transform="translate(378.58,85.07) rotate(0.05) scale(1.0207,1)" font-size="11.55" fill="#1e1e1e" stroke="#1e1e1e" stroke-width="0.3">Missense mutation</text>
<text transform="translate(379.00,103.38) rotate(0.05) scale(1.0402,1)" font-size="11.55" fill="#1e1e1e" stroke="#1e1e1e" stroke-width="0.3">Somatic hypermutation</text>
<text transform="translate(378.58,121.70) rotate(0.05) scale(1.0268,1)" font-size="11.55" fill="#1e1e1e" stroke="#1e1e1e" stroke-width="0.3">High level gain</text>
<text transform="translate(378.59,140.02) rotate(0.05) scale(1.0112,1)" font-size="11.55" fill="#1e1e1e" stroke="#1e1e1e" stroke-width="0.3">Low level gain</text>
<text transform="translate(378.60,158.34) rotate(0.05) scale(1.0027,1)" font-size="11.55" fill="#1e1e1e" stroke="#1e1e1e" stroke-width="0.3">High level loss</text>
<text transform="translate(378.62,176.65) rotate(0.05) scale(0.9860,1)" font-size="11.55" fill="#1e1e1e" stroke="#1e1e1e" stroke-width="0.3">Low level loss</text>
<text transform="translate(378.45,194.97) rotate(0.05) scale(1.0332,1)" font-size="11.55" fill="#1e1e1e" stroke="#1e1e1e" stroke-width="0.3">Ig translocation</text>
<text transform="translate(378.57,213.29) rotate(0.05) scale(1.0357,1)" font-size="11.55" fill="#1e1e1e" stroke="#1e1e1e" stroke-width="0.3">Non-Ig translocation</text>
</g>
<rect x="0" y="0" width="1" height="823" fill="#050505"/>
<rect x="1" y="0" width="1" height="823" fill="#8a8a8a"/>
<rect x="519" y="0" width="1" height="823" fill="#050505"/>
<rect x="518" y="0" width="1" height="823" fill="#6a6a6a"/>
<rect x="0" y="0" width="520" height="1" fill="#8c8c8c"/>
<rect x="0" y="1" width="520" height="1" fill="#0a0a0a"/>
<rect x="0" y="822" width="520" height="1" fill="#8c8c8c"/>
<rect x="0" y="821" width="520" height="1" fill="#0a0a0a"/>
</svg>
</body></html>
